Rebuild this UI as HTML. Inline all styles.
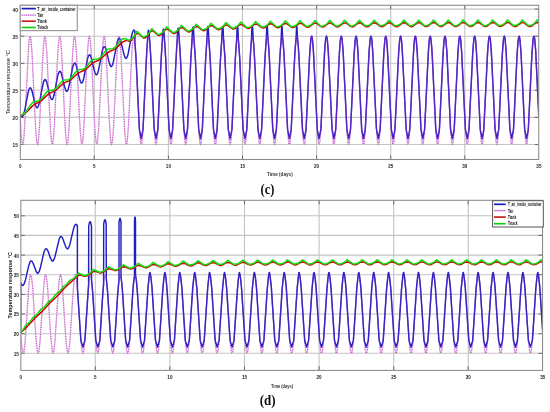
<!DOCTYPE html>
<html><head><meta charset="utf-8"><title>Temperature response</title>
<style>html,body{margin:0;padding:0;background:#fff;width:550px;height:412px;overflow:hidden}svg{display:block}</style>
</head><body>
<svg width="550" height="412" viewBox="0 0 550 412">
<rect width="550" height="412" fill="#fff"/>
<path d="M94.3 5.3V159.5M168.4 5.3V159.5M242.5 5.3V159.5M316.6 5.3V159.5M390.7 5.3V159.5M464.8 5.3V159.5M20.3 144.5H538.7M20.3 117.4H538.7M20.3 90.3H538.7M20.3 63.3H538.7M20.3 36.2H538.7M20.3 9.1H538.7" stroke="#c4c4c4" stroke-width="1.1" fill="none"/>
<path d="M94.3 159.5v-4M94.3 5.3v4M168.4 159.5v-4M168.4 5.3v4M242.5 159.5v-4M242.5 5.3v4M316.6 159.5v-4M316.6 5.3v4M390.7 159.5v-4M390.7 5.3v4M464.8 159.5v-4M464.8 5.3v4M20.3 144.5h4M538.7 144.5h-4M20.3 117.4h4M538.7 117.4h-4M20.3 90.3h4M538.7 90.3h-4M20.3 63.3h4M538.7 63.3h-4M20.3 36.2h4M538.7 36.2h-4M20.3 9.1h4M538.7 9.1h-4" stroke="#6a6a6a" stroke-width="1" fill="none"/>
<clipPath id="clipc"><rect x="20.3" y="5.3" width="518.4" height="154.2"/></clipPath>
<g clip-path="url(#clipc)" fill="none" stroke-linejoin="round" stroke-linecap="round">
<path d="M20.2 117.3 L21.1 132.7 L21.8 141.1 L22.3 143.7 L22.7 144.5 L23.0 143.9 L23.5 141.5 L24.2 133.5 L24.9 121.3 L28.4 50.2 L29.2 39.6 L29.7 37.0 L30.1 36.2 L30.6 37.3 L31.0 40.4 L32.1 54.0 L34.9 114.3 L35.9 132.7 L36.8 142.2 L37.2 144.2 L37.5 144.5 L38.0 143.3 L38.4 140.3 L39.5 126.7 L42.3 66.4 L43.3 48.0 L44.2 38.5 L44.7 36.5 L44.9 36.2 L45.4 37.3 L45.8 40.4 L46.9 54.0 L49.7 114.3 L50.7 132.7 L51.6 142.2 L52.1 144.2 L52.4 144.5 L52.8 143.3 L53.2 140.3 L54.3 126.7 L57.1 66.4 L58.1 48.0 L59.0 38.5 L59.5 36.5 L59.8 36.2 L60.2 37.3 L60.7 40.4 L61.7 54.0 L64.5 114.3 L65.5 132.7 L66.4 142.2 L66.9 144.2 L67.2 144.5 L67.6 143.3 L68.1 140.3 L69.1 126.7 L71.9 66.4 L73.0 48.0 L73.8 38.5 L74.3 36.5 L74.6 36.2 L75.0 37.3 L75.5 40.4 L76.5 54.0 L79.3 114.3 L80.4 132.7 L81.3 142.2 L81.7 144.2 L82.0 144.5 L82.4 143.3 L82.9 140.3 L83.9 126.7 L86.7 66.4 L87.8 48.0 L88.7 38.5 L89.1 36.5 L89.4 36.2 L89.8 37.3 L90.3 40.4 L91.3 54.0 L94.1 114.3 L95.2 132.7 L96.1 142.2 L96.5 144.2 L96.8 144.5 L97.3 143.3 L97.7 140.3 L98.7 126.7 L101.6 66.4 L102.6 48.0 L103.5 38.5 L103.9 36.5 L104.2 36.2 L104.7 37.3 L105.1 40.4 L106.1 54.0 L109.0 114.3 L110.0 132.7 L110.9 142.2 L111.3 144.2 L111.6 144.5 L112.1 143.3 L112.5 140.3 L113.6 126.7 L116.4 66.4 L117.4 48.0 L118.3 38.5 L118.7 36.5 L119.0 36.2 L119.5 37.3 L119.9 40.4 L121.0 54.0 L123.8 114.3 L124.8 132.7 L125.7 142.2 L126.2 144.2 L126.5 144.5 L126.9 143.3 L127.3 140.3 L128.4 126.7 L131.2 66.4 L132.2 48.0 L133.1 38.5 L133.6 36.5 L133.9 36.2 L134.3 37.3 L134.7 40.4 L135.8 54.0 L138.6 114.3 L139.6 132.7 L140.5 142.2 L141.0 144.2 L141.3 144.5 L141.7 143.3 L142.2 140.3 L143.2 126.7 L146.0 66.4 L147.0 48.0 L147.9 38.5 L148.4 36.5 L148.7 36.2 L149.1 37.3 L149.6 40.4 L150.6 54.0 L153.4 114.3 L154.5 132.7 L155.3 142.2 L155.8 144.2 L156.1 144.5 L156.5 143.3 L157.0 140.3 L158.0 126.7 L160.8 66.4 L161.9 48.0 L162.8 38.5 L163.2 36.5 L163.5 36.2 L163.9 37.3 L164.4 40.4 L165.4 54.0 L168.2 114.3 L169.3 132.7 L170.2 142.2 L170.6 144.2 L170.9 144.5 L171.4 143.3 L171.8 140.3 L172.8 126.7 L175.6 66.4 L176.7 48.0 L177.6 38.5 L178.0 36.5 L178.3 36.2 L178.8 37.3 L179.2 40.4 L180.2 54.0 L183.1 114.3 L184.1 132.7 L185.0 142.2 L185.4 144.2 L185.7 144.5 L186.2 143.3 L186.6 140.3 L187.7 126.7 L190.5 66.4 L191.5 48.0 L192.4 38.5 L192.8 36.5 L193.1 36.2 L193.6 37.3 L194.0 40.4 L195.1 54.0 L197.9 114.3 L198.9 132.7 L199.8 142.2 L200.2 144.2 L200.5 144.5 L201.0 143.3 L201.4 140.3 L202.5 126.7 L205.3 66.4 L206.3 48.0 L207.2 38.5 L207.7 36.5 L208.0 36.2 L208.4 37.3 L208.8 40.4 L209.9 54.0 L212.7 114.3 L213.7 132.7 L214.6 142.2 L215.1 144.2 L215.4 144.5 L215.8 143.3 L216.3 140.3 L217.3 126.7 L220.1 66.4 L221.1 48.0 L222.0 38.5 L222.5 36.5 L222.8 36.2 L223.2 37.3 L223.7 40.4 L224.7 54.0 L227.5 114.3 L228.6 132.7 L229.4 142.2 L229.9 144.2 L230.2 144.5 L230.6 143.3 L231.1 140.3 L232.1 126.7 L234.9 66.4 L236.0 48.0 L236.9 38.5 L237.3 36.5 L237.6 36.2 L238.0 37.3 L238.5 40.4 L239.5 54.0 L242.3 114.3 L243.4 132.7 L244.3 142.2 L244.7 144.2 L245.0 144.5 L245.4 143.3 L245.9 140.3 L246.9 126.7 L249.7 66.4 L250.8 48.0 L251.7 38.5 L252.1 36.5 L252.4 36.2 L252.9 37.3 L253.3 40.4 L254.3 54.0 L257.2 114.3 L258.2 132.7 L259.1 142.2 L259.5 144.2 L259.8 144.5 L260.3 143.3 L260.7 140.3 L261.7 126.7 L264.6 66.4 L265.6 48.0 L266.5 38.5 L266.9 36.5 L267.2 36.2 L267.5 36.7 L268.0 39.2 L268.9 49.3 L272.7 128.2 L273.6 139.8 L274.0 143.0 L274.5 144.4 L274.8 144.3 L275.2 142.5 L276.1 133.5 L277.2 115.5 L280.1 52.5 L281.2 39.6 L281.6 37.0 L282.0 36.2 L282.3 36.7 L282.8 39.2 L283.7 49.3 L287.5 128.2 L288.4 139.8 L288.9 143.0 L289.3 144.4 L289.6 144.3 L290.1 142.5 L290.9 133.5 L292.0 115.5 L294.9 52.5 L296.0 39.6 L296.4 37.0 L296.9 36.2 L297.2 36.7 L297.6 39.2 L298.5 49.3 L302.4 128.2 L303.2 139.8 L303.7 143.0 L304.1 144.4 L304.4 144.3 L304.9 142.5 L305.8 133.5 L306.8 115.5 L309.8 52.5 L310.8 39.6 L311.2 37.0 L311.7 36.2 L312.0 36.7 L312.4 39.2 L313.3 49.3 L317.2 128.2 L318.1 139.8 L318.5 143.0 L318.9 144.4 L319.2 144.3 L319.7 142.5 L320.6 133.5 L321.6 115.5 L324.6 52.5 L325.6 39.6 L326.1 37.0 L326.5 36.2 L326.8 36.7 L327.2 39.2 L328.1 49.3 L332.0 128.2 L332.9 139.8 L333.3 143.0 L333.8 144.4 L334.1 144.3 L334.5 142.5 L335.4 133.5 L336.4 115.5 L339.4 52.5 L340.4 39.6 L340.9 37.0 L341.3 36.2 L341.6 36.7 L342.1 39.2 L343.0 49.3 L346.8 128.2 L347.7 139.8 L348.1 143.0 L348.6 144.4 L348.9 144.3 L349.3 142.5 L350.2 133.5 L351.3 115.5 L354.2 52.5 L355.3 39.6 L355.7 37.0 L356.1 36.2 L356.4 36.7 L356.9 39.2 L357.8 49.3 L361.6 128.2 L362.5 139.8 L363.0 143.0 L363.4 144.4 L363.7 144.3 L364.1 142.5 L365.0 133.5 L366.1 115.5 L369.0 52.5 L370.1 39.6 L370.5 37.0 L371.0 36.2 L371.3 36.7 L371.7 39.2 L372.6 49.3 L376.4 128.2 L377.3 139.8 L377.8 143.0 L378.2 144.4 L378.5 144.3 L379.0 142.5 L379.9 133.5 L380.9 115.5 L383.9 52.5 L384.9 39.6 L385.3 37.0 L385.8 36.2 L386.1 36.7 L386.5 39.2 L387.4 49.3 L391.3 128.2 L392.2 139.8 L392.6 143.0 L393.0 144.4 L393.3 144.3 L393.8 142.5 L394.7 133.5 L395.7 115.5 L398.7 52.5 L399.7 39.6 L400.2 37.0 L400.6 36.2 L400.9 36.7 L401.3 39.2 L402.2 49.3 L406.1 128.2 L407.0 139.8 L407.4 143.0 L407.9 144.4 L408.2 144.3 L408.6 142.5 L409.5 133.5 L410.5 115.5 L413.5 52.5 L414.5 39.6 L415.0 37.0 L415.4 36.2 L415.7 36.7 L416.2 39.2 L417.0 49.3 L420.9 128.2 L421.8 139.8 L422.2 143.0 L422.7 144.4 L423.0 144.3 L423.4 142.5 L424.3 133.5 L425.3 115.5 L428.3 52.5 L429.3 39.6 L429.8 37.0 L430.2 36.2 L430.5 36.7 L431.0 39.2 L431.9 49.3 L435.7 128.2 L436.6 139.8 L437.1 143.0 L437.5 144.4 L437.8 144.3 L438.2 142.5 L439.1 133.5 L440.2 115.5 L443.1 52.5 L444.2 39.6 L444.6 37.0 L445.1 36.2 L445.4 36.7 L445.8 39.2 L446.7 49.3 L450.5 128.2 L451.4 139.8 L451.9 143.0 L452.3 144.4 L452.5 144.5 L452.8 143.9 L453.2 141.5 L454.1 131.4 L457.9 52.5 L458.8 40.9 L459.3 37.6 L459.7 36.2 L459.9 36.2 L460.2 36.7 L460.6 39.2 L461.5 49.3 L465.4 128.2 L466.2 139.8 L466.7 143.0 L467.1 144.4 L467.3 144.5 L467.6 143.9 L468.0 141.5 L468.9 131.4 L472.8 52.5 L473.7 40.9 L474.1 37.6 L474.5 36.2 L474.7 36.2 L475.0 36.7 L475.4 39.2 L476.3 49.3 L480.2 128.2 L481.1 139.8 L481.5 143.0 L482.0 144.4 L482.1 144.5 L482.4 143.9 L482.8 141.5 L483.7 131.4 L487.6 52.5 L488.5 40.9 L488.9 37.6 L489.4 36.2 L489.5 36.2 L489.8 36.7 L490.3 39.2 L491.1 49.3 L495.0 128.2 L495.9 139.8 L496.3 143.0 L496.8 144.4 L496.9 144.5 L497.2 143.9 L497.7 141.5 L498.6 131.4 L502.4 52.5 L503.3 40.9 L503.7 37.6 L504.2 36.2 L504.3 36.2 L504.6 36.7 L505.1 39.2 L506.0 49.3 L509.7 125.6 L510.6 138.3 L511.0 142.2 L511.4 144.2 L511.7 144.5 L511.9 144.3 L512.3 142.5 L513.2 133.5 L514.3 115.5 L517.2 52.5 L518.1 40.9 L518.6 37.6 L519.0 36.2 L519.2 36.2 L519.4 36.7 L519.9 39.2 L520.8 49.3 L524.5 125.6 L525.4 138.3 L526.1 143.7 L526.6 144.5 L527.0 143.3 L527.4 140.3 L528.0 133.5 L529.1 115.5 L531.9 55.0 L532.8 42.4 L533.2 38.5 L533.7 36.5 L534.0 36.2 L534.1 36.4 L534.7 39.2 L535.7 51.6 L538.9 117.3" stroke="#efc2ef" stroke-width="1.3"/>
<path d="M20.2 117.3 L21.1 132.7 L21.8 141.1 L22.3 143.7 L22.7 144.5 L23.0 143.9 L23.5 141.5 L24.2 133.5 L24.9 121.3 L28.4 50.2 L29.2 39.6 L29.7 37.0 L30.1 36.2 L30.6 37.3 L31.0 40.4 L32.1 54.0 L34.9 114.3 L35.9 132.7 L36.8 142.2 L37.2 144.2 L37.5 144.5 L38.0 143.3 L38.4 140.3 L39.5 126.7 L42.3 66.4 L43.3 48.0 L44.2 38.5 L44.7 36.5 L44.9 36.2 L45.4 37.3 L45.8 40.4 L46.9 54.0 L49.7 114.3 L50.7 132.7 L51.6 142.2 L52.1 144.2 L52.4 144.5 L52.8 143.3 L53.2 140.3 L54.3 126.7 L57.1 66.4 L58.1 48.0 L59.0 38.5 L59.5 36.5 L59.8 36.2 L60.2 37.3 L60.7 40.4 L61.7 54.0 L64.5 114.3 L65.5 132.7 L66.4 142.2 L66.9 144.2 L67.2 144.5 L67.6 143.3 L68.1 140.3 L69.1 126.7 L71.9 66.4 L73.0 48.0 L73.8 38.5 L74.3 36.5 L74.6 36.2 L75.0 37.3 L75.5 40.4 L76.5 54.0 L79.3 114.3 L80.4 132.7 L81.3 142.2 L81.7 144.2 L82.0 144.5 L82.4 143.3 L82.9 140.3 L83.9 126.7 L86.7 66.4 L87.8 48.0 L88.7 38.5 L89.1 36.5 L89.4 36.2 L89.8 37.3 L90.3 40.4 L91.3 54.0 L94.1 114.3 L95.2 132.7 L96.1 142.2 L96.5 144.2 L96.8 144.5 L97.3 143.3 L97.7 140.3 L98.7 126.7 L101.6 66.4 L102.6 48.0 L103.5 38.5 L103.9 36.5 L104.2 36.2 L104.7 37.3 L105.1 40.4 L106.1 54.0 L109.0 114.3 L110.0 132.7 L110.9 142.2 L111.3 144.2 L111.6 144.5 L112.1 143.3 L112.5 140.3 L113.6 126.7 L116.4 66.4 L117.4 48.0 L118.3 38.5 L118.7 36.5 L119.0 36.2 L119.5 37.3 L119.9 40.4 L121.0 54.0 L123.8 114.3 L124.8 132.7 L125.7 142.2 L126.2 144.2 L126.5 144.5 L126.9 143.3 L127.3 140.3 L128.4 126.7 L131.2 66.4 L132.2 48.0 L133.1 38.5 L133.6 36.5 L133.9 36.2 L134.3 37.3 L134.7 40.4 L135.8 54.0 L138.6 114.3 L139.6 132.7 L140.5 142.2 L141.0 144.2 L141.3 144.5 L141.7 143.3 L142.2 140.3 L143.2 126.7 L146.0 66.4 L147.0 48.0 L147.9 38.5 L148.4 36.5 L148.7 36.2 L149.1 37.3 L149.6 40.4 L150.6 54.0 L153.4 114.3 L154.5 132.7 L155.3 142.2 L155.8 144.2 L156.1 144.5 L156.5 143.3 L157.0 140.3 L158.0 126.7 L160.8 66.4 L161.9 48.0 L162.8 38.5 L163.2 36.5 L163.5 36.2 L163.9 37.3 L164.4 40.4 L165.4 54.0 L168.2 114.3 L169.3 132.7 L170.2 142.2 L170.6 144.2 L170.9 144.5 L171.4 143.3 L171.8 140.3 L172.8 126.7 L175.6 66.4 L176.7 48.0 L177.6 38.5 L178.0 36.5 L178.3 36.2 L178.8 37.3 L179.2 40.4 L180.2 54.0 L183.1 114.3 L184.1 132.7 L185.0 142.2 L185.4 144.2 L185.7 144.5 L186.2 143.3 L186.6 140.3 L187.7 126.7 L190.5 66.4 L191.5 48.0 L192.4 38.5 L192.8 36.5 L193.1 36.2 L193.6 37.3 L194.0 40.4 L195.1 54.0 L197.9 114.3 L198.9 132.7 L199.8 142.2 L200.2 144.2 L200.5 144.5 L201.0 143.3 L201.4 140.3 L202.5 126.7 L205.3 66.4 L206.3 48.0 L207.2 38.5 L207.7 36.5 L208.0 36.2 L208.4 37.3 L208.8 40.4 L209.9 54.0 L212.7 114.3 L213.7 132.7 L214.6 142.2 L215.1 144.2 L215.4 144.5 L215.8 143.3 L216.3 140.3 L217.3 126.7 L220.1 66.4 L221.1 48.0 L222.0 38.5 L222.5 36.5 L222.8 36.2 L223.2 37.3 L223.7 40.4 L224.7 54.0 L227.5 114.3 L228.6 132.7 L229.4 142.2 L229.9 144.2 L230.2 144.5 L230.6 143.3 L231.1 140.3 L232.1 126.7 L234.9 66.4 L236.0 48.0 L236.9 38.5 L237.3 36.5 L237.6 36.2 L238.0 37.3 L238.5 40.4 L239.5 54.0 L242.3 114.3 L243.4 132.7 L244.3 142.2 L244.7 144.2 L245.0 144.5 L245.4 143.3 L245.9 140.3 L246.9 126.7 L249.7 66.4 L250.8 48.0 L251.7 38.5 L252.1 36.5 L252.4 36.2 L252.9 37.3 L253.3 40.4 L254.3 54.0 L257.2 114.3 L258.2 132.7 L259.1 142.2 L259.5 144.2 L259.8 144.5 L260.3 143.3 L260.7 140.3 L261.7 126.7 L264.6 66.4 L265.6 48.0 L266.5 38.5 L266.9 36.5 L267.2 36.2 L267.5 36.7 L268.0 39.2 L268.9 49.3 L272.7 128.2 L273.6 139.8 L274.0 143.0 L274.5 144.4 L274.8 144.3 L275.2 142.5 L276.1 133.5 L277.2 115.5 L280.1 52.5 L281.2 39.6 L281.6 37.0 L282.0 36.2 L282.3 36.7 L282.8 39.2 L283.7 49.3 L287.5 128.2 L288.4 139.8 L288.9 143.0 L289.3 144.4 L289.6 144.3 L290.1 142.5 L290.9 133.5 L292.0 115.5 L294.9 52.5 L296.0 39.6 L296.4 37.0 L296.9 36.2 L297.2 36.7 L297.6 39.2 L298.5 49.3 L302.4 128.2 L303.2 139.8 L303.7 143.0 L304.1 144.4 L304.4 144.3 L304.9 142.5 L305.8 133.5 L306.8 115.5 L309.8 52.5 L310.8 39.6 L311.2 37.0 L311.7 36.2 L312.0 36.7 L312.4 39.2 L313.3 49.3 L317.2 128.2 L318.1 139.8 L318.5 143.0 L318.9 144.4 L319.2 144.3 L319.7 142.5 L320.6 133.5 L321.6 115.5 L324.6 52.5 L325.6 39.6 L326.1 37.0 L326.5 36.2 L326.8 36.7 L327.2 39.2 L328.1 49.3 L332.0 128.2 L332.9 139.8 L333.3 143.0 L333.8 144.4 L334.1 144.3 L334.5 142.5 L335.4 133.5 L336.4 115.5 L339.4 52.5 L340.4 39.6 L340.9 37.0 L341.3 36.2 L341.6 36.7 L342.1 39.2 L343.0 49.3 L346.8 128.2 L347.7 139.8 L348.1 143.0 L348.6 144.4 L348.9 144.3 L349.3 142.5 L350.2 133.5 L351.3 115.5 L354.2 52.5 L355.3 39.6 L355.7 37.0 L356.1 36.2 L356.4 36.7 L356.9 39.2 L357.8 49.3 L361.6 128.2 L362.5 139.8 L363.0 143.0 L363.4 144.4 L363.7 144.3 L364.1 142.5 L365.0 133.5 L366.1 115.5 L369.0 52.5 L370.1 39.6 L370.5 37.0 L371.0 36.2 L371.3 36.7 L371.7 39.2 L372.6 49.3 L376.4 128.2 L377.3 139.8 L377.8 143.0 L378.2 144.4 L378.5 144.3 L379.0 142.5 L379.9 133.5 L380.9 115.5 L383.9 52.5 L384.9 39.6 L385.3 37.0 L385.8 36.2 L386.1 36.7 L386.5 39.2 L387.4 49.3 L391.3 128.2 L392.2 139.8 L392.6 143.0 L393.0 144.4 L393.3 144.3 L393.8 142.5 L394.7 133.5 L395.7 115.5 L398.7 52.5 L399.7 39.6 L400.2 37.0 L400.6 36.2 L400.9 36.7 L401.3 39.2 L402.2 49.3 L406.1 128.2 L407.0 139.8 L407.4 143.0 L407.9 144.4 L408.2 144.3 L408.6 142.5 L409.5 133.5 L410.5 115.5 L413.5 52.5 L414.5 39.6 L415.0 37.0 L415.4 36.2 L415.7 36.7 L416.2 39.2 L417.0 49.3 L420.9 128.2 L421.8 139.8 L422.2 143.0 L422.7 144.4 L423.0 144.3 L423.4 142.5 L424.3 133.5 L425.3 115.5 L428.3 52.5 L429.3 39.6 L429.8 37.0 L430.2 36.2 L430.5 36.7 L431.0 39.2 L431.9 49.3 L435.7 128.2 L436.6 139.8 L437.1 143.0 L437.5 144.4 L437.8 144.3 L438.2 142.5 L439.1 133.5 L440.2 115.5 L443.1 52.5 L444.2 39.6 L444.6 37.0 L445.1 36.2 L445.4 36.7 L445.8 39.2 L446.7 49.3 L450.5 128.2 L451.4 139.8 L451.9 143.0 L452.3 144.4 L452.5 144.5 L452.8 143.9 L453.2 141.5 L454.1 131.4 L457.9 52.5 L458.8 40.9 L459.3 37.6 L459.7 36.2 L459.9 36.2 L460.2 36.7 L460.6 39.2 L461.5 49.3 L465.4 128.2 L466.2 139.8 L466.7 143.0 L467.1 144.4 L467.3 144.5 L467.6 143.9 L468.0 141.5 L468.9 131.4 L472.8 52.5 L473.7 40.9 L474.1 37.6 L474.5 36.2 L474.7 36.2 L475.0 36.7 L475.4 39.2 L476.3 49.3 L480.2 128.2 L481.1 139.8 L481.5 143.0 L482.0 144.4 L482.1 144.5 L482.4 143.9 L482.8 141.5 L483.7 131.4 L487.6 52.5 L488.5 40.9 L488.9 37.6 L489.4 36.2 L489.5 36.2 L489.8 36.7 L490.3 39.2 L491.1 49.3 L495.0 128.2 L495.9 139.8 L496.3 143.0 L496.8 144.4 L496.9 144.5 L497.2 143.9 L497.7 141.5 L498.6 131.4 L502.4 52.5 L503.3 40.9 L503.7 37.6 L504.2 36.2 L504.3 36.2 L504.6 36.7 L505.1 39.2 L506.0 49.3 L509.7 125.6 L510.6 138.3 L511.0 142.2 L511.4 144.2 L511.7 144.5 L511.9 144.3 L512.3 142.5 L513.2 133.5 L514.3 115.5 L517.2 52.5 L518.1 40.9 L518.6 37.6 L519.0 36.2 L519.2 36.2 L519.4 36.7 L519.9 39.2 L520.8 49.3 L524.5 125.6 L525.4 138.3 L526.1 143.7 L526.6 144.5 L527.0 143.3 L527.4 140.3 L528.0 133.5 L529.1 115.5 L531.9 55.0 L532.8 42.4 L533.2 38.5 L533.7 36.5 L534.0 36.2 L534.1 36.4 L534.7 39.2 L535.7 51.6 L538.9 117.3" stroke="#c060c4" stroke-width="1.2" stroke-dasharray="1.1 1.3" stroke-linecap="butt"/>
<path d="M20.2 117.1 L20.7 116.5 L21.9 116.6 L22.5 116.4 L23.1 115.6 L23.7 114.2 L25.0 109.0 L28.1 92.4 L29.1 89.1 L30.0 87.8 L30.4 87.7 L30.9 88.2 L31.9 90.5 L34.8 102.7 L35.9 106.2 L36.4 107.2 L36.9 107.7 L37.4 107.7 L37.8 107.2 L38.6 105.3 L39.5 102.1 L43.1 83.7 L43.9 80.8 L44.8 79.6 L45.2 79.5 L45.7 79.9 L46.7 82.2 L49.6 94.4 L50.7 97.8 L51.6 99.4 L52.0 99.5 L52.5 99.3 L53.3 97.5 L54.2 94.3 L57.9 75.1 L58.8 72.5 L59.6 71.3 L60.1 71.3 L60.6 71.7 L61.5 74.0 L64.4 86.1 L65.5 89.5 L66.3 91.1 L66.8 91.3 L67.2 91.1 L68.1 89.5 L69.0 86.1 L72.7 67.0 L73.6 64.3 L74.4 63.1 L74.9 63.0 L75.4 63.5 L76.3 65.8 L79.3 78.0 L80.3 81.3 L81.1 82.9 L81.6 83.1 L82.0 82.9 L82.9 81.3 L83.8 78.0 L87.6 58.6 L88.4 56.0 L89.2 54.9 L89.7 54.8 L90.2 55.2 L91.2 57.5 L94.1 69.7 L95.1 73.0 L96.0 74.6 L96.4 74.9 L96.8 74.7 L97.7 73.1 L98.6 69.8 L102.4 50.5 L103.2 47.8 L104.1 46.6 L104.5 46.6 L105.0 47.0 L106.0 49.3 L108.9 61.4 L109.9 64.7 L110.8 66.4 L111.2 66.6 L111.6 66.5 L112.5 64.9 L113.4 61.6 L117.2 42.1 L118.1 39.5 L118.9 38.4 L119.3 38.3 L119.8 38.8 L120.8 41.1 L123.7 53.3 L124.7 56.6 L125.6 58.1 L126.0 58.4 L126.4 58.2 L127.3 56.7 L128.2 53.5 L131.1 38.2 L132.1 33.6 L133.1 30.9 L133.6 30.2 L134.1 30.1 L134.9 30.9 L134.9 41.8 L136.2 61.3 L139.4 129.6 L141.2 138.5 L143.0 129.4 L146.5 56.1 L147.9 33.5 L148.2 31.1 L148.6 30.2 L148.9 30.9 L149.2 33.2 L150.7 56.1 L154.2 129.4 L156.1 138.5 L157.8 129.6 L161.3 56.3 L162.8 32.4 L163.1 29.9 L163.5 29.1 L163.8 29.8 L164.0 31.8 L165.6 56.6 L169.1 129.8 L170.9 138.5 L172.6 129.8 L176.2 56.6 L177.6 31.3 L177.9 28.9 L178.3 28.1 L178.6 28.7 L178.7 30.4 L180.4 57.1 L183.9 129.6 L185.7 138.5 L187.5 129.4 L190.9 57.7 L191.9 41.9 L192.5 29.5 L192.7 27.7 L193.1 27.0 L193.4 27.7 L193.5 29.5 L194.0 39.6 L195.3 57.7 L198.7 129.4 L200.5 138.5 L202.3 129.6 L205.7 58.0 L206.8 41.7 L207.4 28.8 L207.6 27.0 L207.9 26.4 L208.1 26.9 L208.3 28.5 L208.8 39.0 L210.1 57.4 L213.5 129.8 L215.3 138.5 L217.1 129.8 L220.5 58.2 L221.7 40.8 L222.2 28.6 L222.4 27.1 L222.7 26.4 L222.9 26.9 L223.1 28.6 L223.5 38.5 L224.9 57.1 L228.3 129.6 L230.1 138.5 L231.9 129.4 L235.4 57.7 L236.6 40.0 L237.1 28.5 L237.2 27.0 L237.5 26.4 L237.9 28.1 L238.3 38.7 L239.7 57.7 L243.1 129.4 L245.0 138.5 L246.8 129.6 L250.2 58.0 L251.4 39.9 L251.9 28.3 L252.1 26.9 L252.4 26.4 L252.7 28.1 L253.1 38.2 L253.9 46.7 L254.5 57.4 L258.0 129.8 L259.8 138.5 L261.6 129.8 L265.0 58.2 L266.3 39.1 L266.8 28.1 L266.9 27.0 L267.2 26.4 L267.4 27.6 L267.9 37.8 L268.6 45.9 L269.3 57.1 L272.8 129.6 L274.6 138.5 L276.4 129.4 L279.8 58.5 L281.2 39.1 L281.6 27.9 L281.7 26.8 L282.0 26.4 L282.2 27.7 L282.6 37.4 L283.4 45.7 L284.2 57.7 L287.6 129.4 L289.4 138.5 L291.2 129.6 L294.6 58.0 L295.3 47.1 L296.1 38.4 L296.5 27.8 L296.6 26.7 L296.8 26.4 L297.0 27.8 L297.4 37.1 L298.2 45.0 L299.0 57.4 L302.5 129.8 L304.2 138.5 L306.0 129.8 L309.7 53.5 L310.7 40.6 L311.2 37.3 L311.6 36.2 L312.1 37.0 L312.5 40.1 L313.5 52.5 L317.3 129.6 L319.0 138.5 L320.9 129.4 L324.5 53.0 L325.5 40.4 L326.0 37.1 L326.5 36.2 L326.9 37.1 L327.4 40.4 L328.4 53.0 L332.1 129.4 L333.9 138.5 L335.7 129.6 L339.4 53.3 L340.3 40.5 L340.8 37.2 L341.3 36.2 L341.7 37.1 L342.2 40.2 L343.2 52.8 L346.9 129.8 L348.7 138.5 L350.5 129.8 L354.2 53.5 L355.1 40.6 L355.6 37.3 L356.1 36.2 L356.5 37.0 L357.0 40.1 L358.0 52.5 L361.7 129.6 L363.5 138.5 L365.3 129.4 L369.0 53.0 L370.0 40.4 L370.5 37.1 L370.9 36.2 L371.4 37.1 L371.9 40.4 L372.8 53.0 L376.5 129.4 L378.3 138.5 L380.1 129.6 L383.8 53.3 L384.8 40.5 L385.3 37.2 L385.7 36.2 L386.2 37.1 L386.7 40.2 L387.6 52.8 L391.4 129.8 L393.1 138.5 L394.9 129.8 L398.6 53.5 L399.6 40.6 L400.1 37.3 L400.5 36.2 L401.0 37.0 L401.5 40.1 L402.4 52.5 L406.2 129.6 L408.0 138.5 L409.8 129.4 L413.5 53.0 L414.4 40.4 L414.9 37.1 L415.4 36.2 L415.8 37.1 L416.3 40.4 L417.3 53.0 L421.0 129.4 L422.8 138.5 L424.6 129.6 L428.3 53.3 L429.2 40.5 L429.7 37.2 L430.2 36.2 L430.6 37.1 L431.1 40.2 L432.1 52.8 L435.8 129.8 L437.6 138.5 L439.4 129.8 L443.1 53.5 L444.0 40.6 L444.5 37.3 L445.0 36.2 L445.4 37.0 L445.9 40.1 L446.9 52.5 L450.6 129.6 L452.4 138.5 L454.2 129.4 L457.9 53.0 L458.9 40.4 L459.3 37.3 L459.8 36.2 L460.0 36.3 L460.2 37.0 L460.7 40.0 L461.7 53.0 L465.4 129.4 L467.3 138.5 L469.0 129.6 L472.7 53.3 L473.7 40.5 L474.2 37.2 L474.6 36.2 L475.1 37.1 L475.6 40.2 L476.5 52.8 L480.3 129.8 L482.1 138.5 L483.8 129.8 L487.5 53.5 L488.5 40.6 L489.0 37.3 L489.4 36.2 L489.9 37.0 L490.4 40.1 L491.4 52.5 L495.1 129.6 L496.9 138.5 L498.7 129.4 L502.4 53.0 L503.4 40.4 L503.8 37.3 L504.2 36.2 L504.5 36.3 L504.7 37.0 L505.2 40.0 L506.2 53.0 L509.9 129.4 L511.7 138.4 L513.5 129.6 L517.1 54.0 L518.1 40.9 L518.6 37.6 L519.0 36.2 L519.2 36.2 L519.4 36.7 L519.9 39.5 L521.0 52.0 L524.7 129.8 L526.5 138.5 L528.3 129.8 L531.9 54.3 L532.9 41.5 L533.3 38.0 L533.8 36.3 L534.0 36.2 L534.2 36.6 L534.7 39.0 L535.7 51.1 L538.8 116.7" stroke="#2020c0" stroke-width="1.45"/>
<mask id="mbc" maskUnits="userSpaceOnUse" x="0" y="0" width="550" height="412"><path d="M20.2 117.1 L20.7 116.5 L21.9 116.6 L22.5 116.4 L23.1 115.6 L23.7 114.2 L25.0 109.0 L28.1 92.4 L29.1 89.1 L30.0 87.8 L30.4 87.7 L30.9 88.2 L31.9 90.5 L34.8 102.7 L35.9 106.2 L36.4 107.2 L36.9 107.7 L37.4 107.7 L37.8 107.2 L38.6 105.3 L39.5 102.1 L43.1 83.7 L43.9 80.8 L44.8 79.6 L45.2 79.5 L45.7 79.9 L46.7 82.2 L49.6 94.4 L50.7 97.8 L51.6 99.4 L52.0 99.5 L52.5 99.3 L53.3 97.5 L54.2 94.3 L57.9 75.1 L58.8 72.5 L59.6 71.3 L60.1 71.3 L60.6 71.7 L61.5 74.0 L64.4 86.1 L65.5 89.5 L66.3 91.1 L66.8 91.3 L67.2 91.1 L68.1 89.5 L69.0 86.1 L72.7 67.0 L73.6 64.3 L74.4 63.1 L74.9 63.0 L75.4 63.5 L76.3 65.8 L79.3 78.0 L80.3 81.3 L81.1 82.9 L81.6 83.1 L82.0 82.9 L82.9 81.3 L83.8 78.0 L87.6 58.6 L88.4 56.0 L89.2 54.9 L89.7 54.8 L90.2 55.2 L91.2 57.5 L94.1 69.7 L95.1 73.0 L96.0 74.6 L96.4 74.9 L96.8 74.7 L97.7 73.1 L98.6 69.8 L102.4 50.5 L103.2 47.8 L104.1 46.6 L104.5 46.6 L105.0 47.0 L106.0 49.3 L108.9 61.4 L109.9 64.7 L110.8 66.4 L111.2 66.6 L111.6 66.5 L112.5 64.9 L113.4 61.6 L117.2 42.1 L118.1 39.5 L118.9 38.4 L119.3 38.3 L119.8 38.8 L120.8 41.1 L123.7 53.3 L124.7 56.6 L125.6 58.1 L126.0 58.4 L126.4 58.2 L127.3 56.7 L128.2 53.5 L131.1 38.2 L132.1 33.6 L133.1 30.9 L133.6 30.2 L134.1 30.1 L134.9 30.9 L134.9 41.8 L136.2 61.3 L139.4 129.6 L141.2 138.5 L143.0 129.4 L146.5 56.1 L147.9 33.5 L148.2 31.1 L148.6 30.2 L148.9 30.9 L149.2 33.2 L150.7 56.1 L154.2 129.4 L156.1 138.5 L157.8 129.6 L161.3 56.3 L162.8 32.4 L163.1 29.9 L163.5 29.1 L163.8 29.8 L164.0 31.8 L165.6 56.6 L169.1 129.8 L170.9 138.5 L172.6 129.8 L176.2 56.6 L177.6 31.3 L177.9 28.9 L178.3 28.1 L178.6 28.7 L178.7 30.4 L180.4 57.1 L183.9 129.6 L185.7 138.5 L187.5 129.4 L190.9 57.7 L191.9 41.9 L192.5 29.5 L192.7 27.7 L193.1 27.0 L193.4 27.7 L193.5 29.5 L194.0 39.6 L195.3 57.7 L198.7 129.4 L200.5 138.5 L202.3 129.6 L205.7 58.0 L206.8 41.7 L207.4 28.8 L207.6 27.0 L207.9 26.4 L208.1 26.9 L208.3 28.5 L208.8 39.0 L210.1 57.4 L213.5 129.8 L215.3 138.5 L217.1 129.8 L220.5 58.2 L221.7 40.8 L222.2 28.6 L222.4 27.1 L222.7 26.4 L222.9 26.9 L223.1 28.6 L223.5 38.5 L224.9 57.1 L228.3 129.6 L230.1 138.5 L231.9 129.4 L235.4 57.7 L236.6 40.0 L237.1 28.5 L237.2 27.0 L237.5 26.4 L237.9 28.1 L238.3 38.7 L239.7 57.7 L243.1 129.4 L245.0 138.5 L246.8 129.6 L250.2 58.0 L251.4 39.9 L251.9 28.3 L252.1 26.9 L252.4 26.4 L252.7 28.1 L253.1 38.2 L253.9 46.7 L254.5 57.4 L258.0 129.8 L259.8 138.5 L261.6 129.8 L265.0 58.2 L266.3 39.1 L266.8 28.1 L266.9 27.0 L267.2 26.4 L267.4 27.6 L267.9 37.8 L268.6 45.9 L269.3 57.1 L272.8 129.6 L274.6 138.5 L276.4 129.4 L279.8 58.5 L281.2 39.1 L281.6 27.9 L281.7 26.8 L282.0 26.4 L282.2 27.7 L282.6 37.4 L283.4 45.7 L284.2 57.7 L287.6 129.4 L289.4 138.5 L291.2 129.6 L294.6 58.0 L295.3 47.1 L296.1 38.4 L296.5 27.8 L296.6 26.7 L296.8 26.4 L297.0 27.8 L297.4 37.1 L298.2 45.0 L299.0 57.4 L302.5 129.8 L304.2 138.5 L306.0 129.8 L309.7 53.5 L310.7 40.6 L311.2 37.3 L311.6 36.2 L312.1 37.0 L312.5 40.1 L313.5 52.5 L317.3 129.6 L319.0 138.5 L320.9 129.4 L324.5 53.0 L325.5 40.4 L326.0 37.1 L326.5 36.2 L326.9 37.1 L327.4 40.4 L328.4 53.0 L332.1 129.4 L333.9 138.5 L335.7 129.6 L339.4 53.3 L340.3 40.5 L340.8 37.2 L341.3 36.2 L341.7 37.1 L342.2 40.2 L343.2 52.8 L346.9 129.8 L348.7 138.5 L350.5 129.8 L354.2 53.5 L355.1 40.6 L355.6 37.3 L356.1 36.2 L356.5 37.0 L357.0 40.1 L358.0 52.5 L361.7 129.6 L363.5 138.5 L365.3 129.4 L369.0 53.0 L370.0 40.4 L370.5 37.1 L370.9 36.2 L371.4 37.1 L371.9 40.4 L372.8 53.0 L376.5 129.4 L378.3 138.5 L380.1 129.6 L383.8 53.3 L384.8 40.5 L385.3 37.2 L385.7 36.2 L386.2 37.1 L386.7 40.2 L387.6 52.8 L391.4 129.8 L393.1 138.5 L394.9 129.8 L398.6 53.5 L399.6 40.6 L400.1 37.3 L400.5 36.2 L401.0 37.0 L401.5 40.1 L402.4 52.5 L406.2 129.6 L408.0 138.5 L409.8 129.4 L413.5 53.0 L414.4 40.4 L414.9 37.1 L415.4 36.2 L415.8 37.1 L416.3 40.4 L417.3 53.0 L421.0 129.4 L422.8 138.5 L424.6 129.6 L428.3 53.3 L429.2 40.5 L429.7 37.2 L430.2 36.2 L430.6 37.1 L431.1 40.2 L432.1 52.8 L435.8 129.8 L437.6 138.5 L439.4 129.8 L443.1 53.5 L444.0 40.6 L444.5 37.3 L445.0 36.2 L445.4 37.0 L445.9 40.1 L446.9 52.5 L450.6 129.6 L452.4 138.5 L454.2 129.4 L457.9 53.0 L458.9 40.4 L459.3 37.3 L459.8 36.2 L460.0 36.3 L460.2 37.0 L460.7 40.0 L461.7 53.0 L465.4 129.4 L467.3 138.5 L469.0 129.6 L472.7 53.3 L473.7 40.5 L474.2 37.2 L474.6 36.2 L475.1 37.1 L475.6 40.2 L476.5 52.8 L480.3 129.8 L482.1 138.5 L483.8 129.8 L487.5 53.5 L488.5 40.6 L489.0 37.3 L489.4 36.2 L489.9 37.0 L490.4 40.1 L491.4 52.5 L495.1 129.6 L496.9 138.5 L498.7 129.4 L502.4 53.0 L503.4 40.4 L503.8 37.3 L504.2 36.2 L504.5 36.3 L504.7 37.0 L505.2 40.0 L506.2 53.0 L509.9 129.4 L511.7 138.4 L513.5 129.6 L517.1 54.0 L518.1 40.9 L518.6 37.6 L519.0 36.2 L519.2 36.2 L519.4 36.7 L519.9 39.5 L521.0 52.0 L524.7 129.8 L526.5 138.5 L528.3 129.8 L531.9 54.3 L532.9 41.5 L533.3 38.0 L533.8 36.3 L534.0 36.2 L534.2 36.6 L534.7 39.0 L535.7 51.1 L538.8 116.7" stroke="#fff" stroke-width="1.45" fill="none"/></mask>
<path d="M20.2 117.3 L21.1 132.7 L21.8 141.1 L22.3 143.7 L22.7 144.5 L23.0 143.9 L23.5 141.5 L24.2 133.5 L24.9 121.3 L28.4 50.2 L29.2 39.6 L29.7 37.0 L30.1 36.2 L30.6 37.3 L31.0 40.4 L32.1 54.0 L34.9 114.3 L35.9 132.7 L36.8 142.2 L37.2 144.2 L37.5 144.5 L38.0 143.3 L38.4 140.3 L39.5 126.7 L42.3 66.4 L43.3 48.0 L44.2 38.5 L44.7 36.5 L44.9 36.2 L45.4 37.3 L45.8 40.4 L46.9 54.0 L49.7 114.3 L50.7 132.7 L51.6 142.2 L52.1 144.2 L52.4 144.5 L52.8 143.3 L53.2 140.3 L54.3 126.7 L57.1 66.4 L58.1 48.0 L59.0 38.5 L59.5 36.5 L59.8 36.2 L60.2 37.3 L60.7 40.4 L61.7 54.0 L64.5 114.3 L65.5 132.7 L66.4 142.2 L66.9 144.2 L67.2 144.5 L67.6 143.3 L68.1 140.3 L69.1 126.7 L71.9 66.4 L73.0 48.0 L73.8 38.5 L74.3 36.5 L74.6 36.2 L75.0 37.3 L75.5 40.4 L76.5 54.0 L79.3 114.3 L80.4 132.7 L81.3 142.2 L81.7 144.2 L82.0 144.5 L82.4 143.3 L82.9 140.3 L83.9 126.7 L86.7 66.4 L87.8 48.0 L88.7 38.5 L89.1 36.5 L89.4 36.2 L89.8 37.3 L90.3 40.4 L91.3 54.0 L94.1 114.3 L95.2 132.7 L96.1 142.2 L96.5 144.2 L96.8 144.5 L97.3 143.3 L97.7 140.3 L98.7 126.7 L101.6 66.4 L102.6 48.0 L103.5 38.5 L103.9 36.5 L104.2 36.2 L104.7 37.3 L105.1 40.4 L106.1 54.0 L109.0 114.3 L110.0 132.7 L110.9 142.2 L111.3 144.2 L111.6 144.5 L112.1 143.3 L112.5 140.3 L113.6 126.7 L116.4 66.4 L117.4 48.0 L118.3 38.5 L118.7 36.5 L119.0 36.2 L119.5 37.3 L119.9 40.4 L121.0 54.0 L123.8 114.3 L124.8 132.7 L125.7 142.2 L126.2 144.2 L126.5 144.5 L126.9 143.3 L127.3 140.3 L128.4 126.7 L131.2 66.4 L132.2 48.0 L133.1 38.5 L133.6 36.5 L133.9 36.2 L134.3 37.3 L134.7 40.4 L135.8 54.0 L138.6 114.3 L139.6 132.7 L140.5 142.2 L141.0 144.2 L141.3 144.5 L141.7 143.3 L142.2 140.3 L143.2 126.7 L146.0 66.4 L147.0 48.0 L147.9 38.5 L148.4 36.5 L148.7 36.2 L149.1 37.3 L149.6 40.4 L150.6 54.0 L153.4 114.3 L154.5 132.7 L155.3 142.2 L155.8 144.2 L156.1 144.5 L156.5 143.3 L157.0 140.3 L158.0 126.7 L160.8 66.4 L161.9 48.0 L162.8 38.5 L163.2 36.5 L163.5 36.2 L163.9 37.3 L164.4 40.4 L165.4 54.0 L168.2 114.3 L169.3 132.7 L170.2 142.2 L170.6 144.2 L170.9 144.5 L171.4 143.3 L171.8 140.3 L172.8 126.7 L175.6 66.4 L176.7 48.0 L177.6 38.5 L178.0 36.5 L178.3 36.2 L178.8 37.3 L179.2 40.4 L180.2 54.0 L183.1 114.3 L184.1 132.7 L185.0 142.2 L185.4 144.2 L185.7 144.5 L186.2 143.3 L186.6 140.3 L187.7 126.7 L190.5 66.4 L191.5 48.0 L192.4 38.5 L192.8 36.5 L193.1 36.2 L193.6 37.3 L194.0 40.4 L195.1 54.0 L197.9 114.3 L198.9 132.7 L199.8 142.2 L200.2 144.2 L200.5 144.5 L201.0 143.3 L201.4 140.3 L202.5 126.7 L205.3 66.4 L206.3 48.0 L207.2 38.5 L207.7 36.5 L208.0 36.2 L208.4 37.3 L208.8 40.4 L209.9 54.0 L212.7 114.3 L213.7 132.7 L214.6 142.2 L215.1 144.2 L215.4 144.5 L215.8 143.3 L216.3 140.3 L217.3 126.7 L220.1 66.4 L221.1 48.0 L222.0 38.5 L222.5 36.5 L222.8 36.2 L223.2 37.3 L223.7 40.4 L224.7 54.0 L227.5 114.3 L228.6 132.7 L229.4 142.2 L229.9 144.2 L230.2 144.5 L230.6 143.3 L231.1 140.3 L232.1 126.7 L234.9 66.4 L236.0 48.0 L236.9 38.5 L237.3 36.5 L237.6 36.2 L238.0 37.3 L238.5 40.4 L239.5 54.0 L242.3 114.3 L243.4 132.7 L244.3 142.2 L244.7 144.2 L245.0 144.5 L245.4 143.3 L245.9 140.3 L246.9 126.7 L249.7 66.4 L250.8 48.0 L251.7 38.5 L252.1 36.5 L252.4 36.2 L252.9 37.3 L253.3 40.4 L254.3 54.0 L257.2 114.3 L258.2 132.7 L259.1 142.2 L259.5 144.2 L259.8 144.5 L260.3 143.3 L260.7 140.3 L261.7 126.7 L264.6 66.4 L265.6 48.0 L266.5 38.5 L266.9 36.5 L267.2 36.2 L267.5 36.7 L268.0 39.2 L268.9 49.3 L272.7 128.2 L273.6 139.8 L274.0 143.0 L274.5 144.4 L274.8 144.3 L275.2 142.5 L276.1 133.5 L277.2 115.5 L280.1 52.5 L281.2 39.6 L281.6 37.0 L282.0 36.2 L282.3 36.7 L282.8 39.2 L283.7 49.3 L287.5 128.2 L288.4 139.8 L288.9 143.0 L289.3 144.4 L289.6 144.3 L290.1 142.5 L290.9 133.5 L292.0 115.5 L294.9 52.5 L296.0 39.6 L296.4 37.0 L296.9 36.2 L297.2 36.7 L297.6 39.2 L298.5 49.3 L302.4 128.2 L303.2 139.8 L303.7 143.0 L304.1 144.4 L304.4 144.3 L304.9 142.5 L305.8 133.5 L306.8 115.5 L309.8 52.5 L310.8 39.6 L311.2 37.0 L311.7 36.2 L312.0 36.7 L312.4 39.2 L313.3 49.3 L317.2 128.2 L318.1 139.8 L318.5 143.0 L318.9 144.4 L319.2 144.3 L319.7 142.5 L320.6 133.5 L321.6 115.5 L324.6 52.5 L325.6 39.6 L326.1 37.0 L326.5 36.2 L326.8 36.7 L327.2 39.2 L328.1 49.3 L332.0 128.2 L332.9 139.8 L333.3 143.0 L333.8 144.4 L334.1 144.3 L334.5 142.5 L335.4 133.5 L336.4 115.5 L339.4 52.5 L340.4 39.6 L340.9 37.0 L341.3 36.2 L341.6 36.7 L342.1 39.2 L343.0 49.3 L346.8 128.2 L347.7 139.8 L348.1 143.0 L348.6 144.4 L348.9 144.3 L349.3 142.5 L350.2 133.5 L351.3 115.5 L354.2 52.5 L355.3 39.6 L355.7 37.0 L356.1 36.2 L356.4 36.7 L356.9 39.2 L357.8 49.3 L361.6 128.2 L362.5 139.8 L363.0 143.0 L363.4 144.4 L363.7 144.3 L364.1 142.5 L365.0 133.5 L366.1 115.5 L369.0 52.5 L370.1 39.6 L370.5 37.0 L371.0 36.2 L371.3 36.7 L371.7 39.2 L372.6 49.3 L376.4 128.2 L377.3 139.8 L377.8 143.0 L378.2 144.4 L378.5 144.3 L379.0 142.5 L379.9 133.5 L380.9 115.5 L383.9 52.5 L384.9 39.6 L385.3 37.0 L385.8 36.2 L386.1 36.7 L386.5 39.2 L387.4 49.3 L391.3 128.2 L392.2 139.8 L392.6 143.0 L393.0 144.4 L393.3 144.3 L393.8 142.5 L394.7 133.5 L395.7 115.5 L398.7 52.5 L399.7 39.6 L400.2 37.0 L400.6 36.2 L400.9 36.7 L401.3 39.2 L402.2 49.3 L406.1 128.2 L407.0 139.8 L407.4 143.0 L407.9 144.4 L408.2 144.3 L408.6 142.5 L409.5 133.5 L410.5 115.5 L413.5 52.5 L414.5 39.6 L415.0 37.0 L415.4 36.2 L415.7 36.7 L416.2 39.2 L417.0 49.3 L420.9 128.2 L421.8 139.8 L422.2 143.0 L422.7 144.4 L423.0 144.3 L423.4 142.5 L424.3 133.5 L425.3 115.5 L428.3 52.5 L429.3 39.6 L429.8 37.0 L430.2 36.2 L430.5 36.7 L431.0 39.2 L431.9 49.3 L435.7 128.2 L436.6 139.8 L437.1 143.0 L437.5 144.4 L437.8 144.3 L438.2 142.5 L439.1 133.5 L440.2 115.5 L443.1 52.5 L444.2 39.6 L444.6 37.0 L445.1 36.2 L445.4 36.7 L445.8 39.2 L446.7 49.3 L450.5 128.2 L451.4 139.8 L451.9 143.0 L452.3 144.4 L452.5 144.5 L452.8 143.9 L453.2 141.5 L454.1 131.4 L457.9 52.5 L458.8 40.9 L459.3 37.6 L459.7 36.2 L459.9 36.2 L460.2 36.7 L460.6 39.2 L461.5 49.3 L465.4 128.2 L466.2 139.8 L466.7 143.0 L467.1 144.4 L467.3 144.5 L467.6 143.9 L468.0 141.5 L468.9 131.4 L472.8 52.5 L473.7 40.9 L474.1 37.6 L474.5 36.2 L474.7 36.2 L475.0 36.7 L475.4 39.2 L476.3 49.3 L480.2 128.2 L481.1 139.8 L481.5 143.0 L482.0 144.4 L482.1 144.5 L482.4 143.9 L482.8 141.5 L483.7 131.4 L487.6 52.5 L488.5 40.9 L488.9 37.6 L489.4 36.2 L489.5 36.2 L489.8 36.7 L490.3 39.2 L491.1 49.3 L495.0 128.2 L495.9 139.8 L496.3 143.0 L496.8 144.4 L496.9 144.5 L497.2 143.9 L497.7 141.5 L498.6 131.4 L502.4 52.5 L503.3 40.9 L503.7 37.6 L504.2 36.2 L504.3 36.2 L504.6 36.7 L505.1 39.2 L506.0 49.3 L509.7 125.6 L510.6 138.3 L511.0 142.2 L511.4 144.2 L511.7 144.5 L511.9 144.3 L512.3 142.5 L513.2 133.5 L514.3 115.5 L517.2 52.5 L518.1 40.9 L518.6 37.6 L519.0 36.2 L519.2 36.2 L519.4 36.7 L519.9 39.2 L520.8 49.3 L524.5 125.6 L525.4 138.3 L526.1 143.7 L526.6 144.5 L527.0 143.3 L527.4 140.3 L528.0 133.5 L529.1 115.5 L531.9 55.0 L532.8 42.4 L533.2 38.5 L533.7 36.5 L534.0 36.2 L534.1 36.4 L534.7 39.2 L535.7 51.6 L538.9 117.3" stroke="#b030d0" stroke-width="1.8" stroke-opacity="0.38" stroke-linecap="butt" mask="url(#mbc)"/>
<path d="M20.2 116.3 L26.1 112.4 L31.8 106.6 L33.7 105.0 L35.6 103.7 L39.5 101.9 L41.4 100.6 L46.6 95.6 L48.4 94.1 L50.0 93.1 L53.8 91.4 L55.8 90.3 L57.7 88.7 L61.7 84.8 L63.6 83.3 L65.2 82.4 L68.8 80.9 L70.6 79.9 L72.5 78.3 L76.5 74.5 L78.3 73.1 L80.1 72.1 L83.8 70.5 L85.4 69.5 L87.3 68.0 L91.2 64.3 L93.0 62.9 L94.7 61.9 L98.6 60.2 L100.2 59.2 L102.1 57.7 L106.0 54.0 L107.8 52.6 L109.6 51.5 L113.4 49.9 L115.0 48.9 L117.0 47.4 L120.8 43.6 L122.6 42.2 L124.5 41.2 L126.6 40.4 L127.3 40.4 L129.3 41.2 L130.0 41.1 L130.7 40.7 L132.1 39.4 L135.5 34.6 L136.5 33.8 L137.4 33.4 L138.2 33.4 L138.9 33.8 L142.6 37.4 L143.5 37.9 L144.4 38.1 L145.3 37.8 L146.2 37.2 L150.2 32.2 L151.2 31.3 L152.1 31.0 L152.8 31.1 L153.7 31.4 L157.4 34.8 L158.5 35.3 L159.3 35.4 L160.1 35.2 L161.0 34.7 L165.0 30.2 L166.0 29.5 L166.9 29.2 L167.6 29.2 L168.5 29.6 L172.4 32.9 L173.3 33.3 L174.2 33.4 L174.9 33.3 L175.8 32.8 L179.8 28.7 L180.8 28.0 L181.7 27.8 L182.5 27.8 L183.4 28.2 L187.2 31.3 L188.1 31.7 L189.0 31.9 L189.9 31.7 L190.8 31.2 L194.6 27.5 L195.5 26.9 L196.4 26.6 L197.3 26.7 L198.2 27.0 L202.0 30.1 L203.1 30.6 L204.0 30.7 L205.6 30.0 L209.4 26.5 L210.3 26.0 L211.2 25.8 L212.1 25.8 L213.0 26.2 L216.8 29.2 L217.9 29.6 L218.8 29.7 L220.4 29.1 L224.1 25.9 L225.0 25.4 L225.9 25.1 L226.8 25.1 L227.7 25.4 L231.7 28.4 L232.7 28.9 L233.6 29.0 L234.5 28.8 L235.4 28.4 L238.9 25.3 L240.6 24.5 L241.4 24.5 L242.5 24.9 L246.5 27.9 L247.5 28.3 L248.4 28.5 L249.3 28.3 L250.3 27.7 L254.2 24.6 L255.8 24.1 L256.7 24.2 L257.7 24.7 L261.6 27.6 L263.2 28.0 L264.1 27.9 L265.2 27.3 L269.0 24.2 L270.6 23.7 L271.5 23.9 L272.6 24.3 L276.4 27.3 L278.0 27.7 L278.9 27.5 L280.0 27.0 L283.8 24.0 L285.5 23.5 L286.3 23.6 L287.4 24.1 L291.2 27.0 L292.9 27.4 L293.8 27.3 L294.8 26.8 L298.6 23.8 L300.3 23.3 L301.2 23.4 L302.2 23.9 L306.1 26.8 L307.7 27.2 L308.6 27.1 L309.6 26.6 L313.5 23.6 L315.1 23.1 L316.0 23.2 L317.0 23.7 L320.9 26.6 L322.5 27.1 L323.4 26.9 L324.4 26.4 L328.3 23.5 L329.9 23.0 L330.8 23.1 L331.8 23.6 L335.7 26.5 L337.3 27.0 L338.2 26.8 L339.2 26.3 L343.1 23.4 L344.7 22.9 L345.6 23.0 L346.7 23.5 L350.5 26.4 L352.1 26.9 L353.0 26.7 L354.1 26.2 L357.9 23.3 L359.6 22.8 L361.2 23.3 L365.0 26.2 L366.1 26.7 L367.0 26.8 L367.9 26.6 L368.9 26.2 L372.7 23.2 L374.4 22.7 L376.0 23.2 L379.9 26.1 L380.9 26.6 L381.8 26.7 L382.7 26.6 L383.7 26.1 L387.6 23.2 L389.2 22.7 L390.8 23.2 L394.7 26.1 L395.7 26.6 L396.6 26.7 L397.5 26.5 L398.5 26.1 L402.4 23.1 L404.0 22.7 L405.6 23.1 L409.5 26.0 L410.5 26.5 L411.4 26.7 L413.0 26.2 L416.9 23.3 L417.8 22.8 L418.7 22.6 L419.6 22.7 L420.5 23.1 L424.3 26.0 L425.3 26.5 L426.2 26.6 L427.9 26.2 L431.7 23.2 L432.6 22.8 L433.5 22.6 L434.4 22.7 L435.3 23.1 L439.1 26.0 L440.2 26.5 L441.1 26.6 L442.7 26.1 L446.5 23.2 L447.4 22.8 L448.3 22.6 L449.2 22.7 L450.1 23.1 L453.9 26.0 L455.0 26.5 L455.9 26.6 L457.5 26.1 L461.4 23.2 L462.2 22.8 L463.1 22.6 L464.0 22.7 L464.9 23.0 L468.8 26.0 L469.8 26.4 L470.7 26.6 L472.3 26.1 L476.2 23.2 L477.1 22.8 L478.0 22.6 L478.8 22.7 L479.7 23.0 L483.6 25.9 L484.6 26.4 L485.5 26.6 L487.1 26.1 L491.0 23.2 L491.9 22.8 L492.8 22.6 L493.7 22.7 L494.6 23.0 L498.4 25.9 L499.4 26.4 L500.3 26.6 L502.0 26.1 L505.7 23.3 L507.4 22.6 L508.3 22.6 L509.2 22.9 L513.2 25.9 L514.3 26.4 L515.1 26.6 L516.0 26.4 L516.9 26.0 L520.5 23.3 L522.1 22.6 L523.0 22.6 L524.0 22.9 L528.0 25.9 L529.1 26.4 L530.0 26.6 L530.9 26.4 L531.9 25.9 L535.0 23.5 L536.2 22.8 L537.5 22.5 L538.9 22.9" stroke="#d40000" stroke-width="1.5"/>
<path d="M20.2 115.9 L24.1 113.4 L25.7 111.9 L27.3 109.9 L30.7 104.7 L32.5 102.7 L34.4 101.5 L38.3 100.9 L40.2 100.0 L42.1 98.0 L46.0 92.9 L47.6 91.3 L49.2 90.5 L53.1 90.1 L55.0 89.3 L57.0 87.4 L61.0 82.2 L62.9 80.5 L64.5 79.9 L68.1 79.7 L69.8 78.9 L71.8 77.0 L75.8 71.8 L77.5 70.3 L79.3 69.6 L83.0 69.3 L84.7 68.5 L86.6 66.7 L90.4 61.6 L92.2 60.0 L94.0 59.3 L97.9 59.0 L99.5 58.2 L101.4 56.4 L105.3 51.3 L107.0 49.7 L108.8 49.0 L112.7 48.7 L114.3 47.9 L116.2 46.1 L120.2 40.9 L122.0 39.3 L123.6 38.7 L125.6 38.7 L126.7 39.1 L128.2 40.3 L129.9 39.8 L131.2 39.1 L132.7 37.9 L134.2 36.2 L135.6 33.8 L137.0 31.2 L143.0 37.2 L145.6 36.3 L147.6 34.8 L149.7 32.3 L151.8 28.7 L157.9 34.6 L160.4 33.9 L162.5 32.5 L164.5 30.2 L166.6 26.8 L172.7 32.6 L175.2 31.9 L177.3 30.7 L179.4 28.5 L181.4 25.3 L187.5 31.0 L190.0 30.5 L192.2 29.2 L194.3 27.1 L196.2 24.2 L202.3 29.8 L204.8 29.3 L207.1 28.1 L209.1 26.1 L211.1 23.3 L217.1 28.9 L219.7 28.4 L221.9 27.3 L224.0 25.3 L225.9 22.5 L232.0 28.1 L234.5 27.7 L236.7 26.6 L238.8 24.7 L240.7 22.0 L246.8 27.6 L249.2 27.2 L250.8 26.6 L252.4 25.4 L254.0 23.7 L255.5 21.6 L261.6 27.1 L264.1 26.8 L266.3 25.7 L268.4 23.8 L270.3 21.2 L276.4 26.8 L278.9 26.5 L281.2 25.4 L283.2 23.5 L285.2 20.9 L291.2 26.5 L293.8 26.2 L296.0 25.2 L298.1 23.3 L300.0 20.7 L306.1 26.3 L308.6 26.0 L310.8 25.0 L312.9 23.1 L314.8 20.6 L320.9 26.2 L323.4 25.9 L325.6 24.8 L327.7 23.0 L329.6 20.4 L335.7 26.0 L338.2 25.7 L340.4 24.7 L342.5 22.9 L344.4 20.3 L350.5 26.0 L353.0 25.7 L355.3 24.6 L357.3 22.8 L359.3 20.3 L365.3 25.9 L367.9 25.6 L370.1 24.6 L372.1 22.7 L374.1 20.2 L380.2 25.8 L382.7 25.5 L384.9 24.5 L387.0 22.7 L388.9 20.2 L395.0 25.8 L397.5 25.5 L399.7 24.5 L401.8 22.7 L403.7 20.1 L409.8 25.7 L412.3 25.5 L414.5 24.4 L416.6 22.6 L418.5 20.1 L424.6 25.7 L427.1 25.4 L429.3 24.4 L431.4 22.6 L433.3 20.1 L439.4 25.7 L441.9 25.4 L444.2 24.4 L446.2 22.6 L448.2 20.0 L454.2 25.7 L456.8 25.4 L459.0 24.4 L461.1 22.6 L463.0 20.0 L469.1 25.7 L471.6 25.4 L473.8 24.4 L475.9 22.6 L477.8 20.0 L483.9 25.7 L486.4 25.4 L488.6 24.4 L490.7 22.6 L492.6 20.0 L498.7 25.6 L501.2 25.4 L503.4 24.3 L505.5 22.5 L507.4 20.0 L513.5 25.6 L516.0 25.4 L518.3 24.3 L520.3 22.5 L522.3 20.0 L528.3 25.6 L530.9 25.4 L533.1 24.3 L535.2 22.5 L537.1 20.0 L538.9 21.6" stroke="#10dc10" stroke-width="1.5"/>
</g>
<rect x="20.3" y="5.3" width="518.4" height="154.2" fill="none" stroke="#8a8a8a" stroke-width="1.05"/>
<path d="M95.3 200.3V370.4M169.9 200.3V370.4M244.5 200.3V370.4M319.1 200.3V370.4M393.7 200.3V370.4M468.2 200.3V370.4M20.9 353.3H542.5M20.9 333.7H542.5M20.9 314.0H542.5M20.9 294.4H542.5M20.9 274.7H542.5M20.9 255.1H542.5M20.9 235.4H542.5M20.9 215.8H542.5" stroke="#c4c4c4" stroke-width="1.1" fill="none"/>
<path d="M95.3 370.4v-4M95.3 200.3v4M169.9 370.4v-4M169.9 200.3v4M244.5 370.4v-4M244.5 200.3v4M319.1 370.4v-4M319.1 200.3v4M393.7 370.4v-4M393.7 200.3v4M468.2 370.4v-4M468.2 200.3v4M20.9 353.3h4M542.5 353.3h-4M20.9 333.7h4M542.5 333.7h-4M20.9 314.0h4M542.5 314.0h-4M20.9 294.4h4M542.5 294.4h-4M20.9 274.7h4M542.5 274.7h-4M20.9 255.1h4M542.5 255.1h-4M20.9 235.4h4M542.5 235.4h-4M20.9 215.8h4M542.5 215.8h-4" stroke="#6a6a6a" stroke-width="1" fill="none"/>
<clipPath id="clipd"><rect x="20.85" y="200.3" width="521.7" height="170.1"/></clipPath>
<g clip-path="url(#clipd)" fill="none" stroke-linejoin="round" stroke-linecap="round">
<path d="M20.7 333.6 L21.6 344.8 L22.4 350.8 L22.8 352.8 L23.3 353.3 L23.6 352.9 L24.0 351.2 L24.8 345.4 L25.5 336.5 L28.9 284.9 L29.8 277.2 L30.3 275.3 L30.7 274.7 L31.2 275.6 L31.6 277.8 L32.7 287.7 L35.5 331.4 L36.5 344.8 L37.4 351.6 L37.9 353.1 L38.2 353.3 L38.6 352.5 L39.1 350.3 L40.1 340.4 L43.0 296.6 L44.0 283.3 L44.9 276.4 L45.3 275.0 L45.6 274.7 L46.1 275.6 L46.5 277.8 L47.6 287.7 L50.4 331.4 L51.5 344.8 L52.4 351.6 L52.8 353.1 L53.1 353.3 L53.5 352.5 L54.0 350.3 L55.0 340.4 L57.9 296.6 L58.9 283.3 L59.8 276.4 L60.3 275.0 L60.6 274.7 L61.0 275.6 L61.5 277.8 L62.5 287.7 L65.3 331.4 L66.4 344.8 L67.3 351.6 L67.7 353.1 L68.0 353.3 L68.5 352.5 L68.9 350.3 L70.0 340.4 L72.8 296.6 L73.8 283.3 L74.7 276.4 L75.2 275.0 L75.5 274.7 L75.9 275.6 L76.4 277.8 L77.4 287.7 L80.2 331.4 L81.3 344.8 L82.2 351.6 L82.6 353.1 L82.9 353.3 L83.4 352.5 L83.8 350.3 L84.9 340.4 L87.7 296.6 L88.8 283.3 L89.6 276.4 L90.1 275.0 L90.4 274.7 L90.8 275.6 L91.3 277.8 L92.3 287.7 L95.2 331.4 L96.2 344.8 L97.1 351.6 L97.6 353.1 L97.9 353.3 L98.3 352.5 L98.7 350.3 L99.8 340.4 L102.6 296.6 L103.7 283.3 L104.6 276.4 L105.0 275.0 L105.3 274.7 L105.8 275.6 L106.2 277.8 L107.2 287.7 L110.1 331.4 L111.1 344.8 L112.0 351.6 L112.5 353.1 L112.8 353.3 L113.2 352.5 L113.7 350.3 L114.7 340.4 L117.5 296.6 L118.6 283.3 L119.5 276.4 L119.9 275.0 L120.2 274.7 L120.7 275.6 L121.1 277.8 L122.2 287.7 L125.0 331.4 L126.0 344.8 L126.9 351.6 L127.4 353.1 L127.7 353.3 L128.1 352.5 L128.6 350.3 L129.6 340.4 L132.5 296.6 L133.5 283.3 L134.4 276.4 L134.8 275.0 L135.1 274.7 L135.6 275.6 L136.0 277.8 L137.1 287.7 L139.9 331.4 L141.0 344.8 L141.9 351.6 L142.3 353.1 L142.6 353.3 L143.1 352.5 L143.5 350.3 L144.5 340.4 L147.4 296.6 L148.4 283.3 L149.3 276.4 L149.8 275.0 L150.1 274.7 L150.5 275.6 L151.0 277.8 L152.0 287.7 L154.8 331.4 L155.9 344.8 L156.8 351.6 L157.2 353.1 L157.5 353.3 L158.0 352.5 L158.4 350.3 L159.5 340.4 L162.3 296.6 L163.3 283.3 L164.2 276.4 L164.7 275.0 L165.0 274.7 L165.4 275.6 L165.9 277.8 L166.9 287.7 L169.8 331.4 L170.8 344.8 L171.7 351.6 L172.1 353.1 L172.4 353.3 L172.9 352.5 L173.3 350.3 L174.4 340.4 L177.2 296.6 L178.3 283.3 L179.2 276.4 L179.6 275.0 L179.9 274.7 L180.3 275.6 L180.8 277.8 L181.8 287.7 L184.7 331.4 L185.7 344.8 L186.6 351.6 L187.1 353.1 L187.4 353.3 L187.8 352.5 L188.2 350.3 L189.3 340.4 L192.1 296.6 L193.2 283.3 L194.1 276.4 L194.5 275.0 L194.8 274.7 L195.3 275.6 L195.7 277.8 L196.8 287.7 L199.6 331.4 L200.6 344.8 L201.5 351.6 L202.0 353.1 L202.3 353.3 L202.7 352.5 L203.2 350.3 L204.2 340.4 L207.0 296.6 L208.1 283.3 L209.0 276.4 L209.4 275.0 L209.7 274.7 L210.2 275.6 L210.6 277.8 L211.7 287.7 L214.5 331.4 L215.5 344.8 L216.4 351.6 L216.9 353.1 L217.2 353.3 L217.6 352.5 L218.1 350.3 L219.1 340.4 L222.0 296.6 L223.0 283.3 L223.9 276.4 L224.3 275.0 L224.6 274.7 L225.1 275.6 L225.5 277.8 L226.6 287.7 L229.4 331.4 L230.5 344.8 L231.4 351.6 L231.8 353.1 L232.1 353.3 L232.6 352.5 L233.0 350.3 L234.0 340.4 L236.9 296.6 L237.9 283.3 L238.8 276.4 L239.3 275.0 L239.6 274.7 L240.0 275.6 L240.5 277.8 L241.5 287.7 L244.3 331.4 L245.4 344.8 L246.3 351.6 L246.7 353.1 L247.0 353.3 L247.5 352.5 L247.9 350.3 L249.0 340.4 L251.8 296.6 L252.8 283.3 L253.7 276.4 L254.2 275.0 L254.5 274.7 L254.9 275.6 L255.4 277.8 L256.4 287.7 L259.3 331.4 L260.3 344.8 L261.2 351.6 L261.6 353.1 L261.9 353.3 L262.4 352.5 L262.8 350.3 L263.9 340.4 L266.7 296.6 L267.8 283.3 L268.7 276.4 L269.1 275.0 L269.4 274.7 L269.7 275.1 L270.1 276.9 L271.0 284.2 L274.9 341.5 L275.8 349.9 L276.3 352.3 L276.7 353.3 L277.0 353.2 L277.5 351.9 L278.3 345.4 L279.4 332.3 L282.4 286.6 L283.4 277.2 L283.9 275.3 L284.3 274.7 L284.6 275.1 L285.1 276.9 L286.0 284.2 L289.8 341.5 L290.7 349.9 L291.2 352.3 L291.6 353.3 L291.9 353.2 L292.4 351.9 L293.3 345.4 L294.3 332.3 L297.3 286.6 L298.3 277.2 L298.8 275.3 L299.2 274.7 L299.5 275.1 L300.0 276.9 L300.9 284.2 L304.8 341.5 L305.6 349.9 L306.1 352.3 L306.5 353.3 L306.8 353.2 L307.3 351.9 L308.2 345.4 L309.2 332.3 L312.2 286.6 L313.3 277.2 L313.7 275.3 L314.2 274.7 L314.4 275.1 L314.9 276.9 L315.8 284.2 L319.7 341.5 L320.6 349.9 L321.0 352.3 L321.5 353.3 L321.8 353.2 L322.2 351.9 L323.1 345.4 L324.1 332.3 L327.1 286.6 L328.2 277.2 L328.6 275.3 L329.1 274.7 L329.4 275.1 L329.8 276.9 L330.7 284.2 L334.6 341.5 L335.5 349.9 L335.9 352.3 L336.4 353.3 L336.7 353.2 L337.1 351.9 L338.0 345.4 L339.1 332.3 L342.0 286.6 L343.1 277.2 L343.5 275.3 L344.0 274.7 L344.3 275.1 L344.7 276.9 L345.6 284.2 L349.5 341.5 L350.4 349.9 L350.8 352.3 L351.3 353.3 L351.6 353.2 L352.0 351.9 L352.9 345.4 L354.0 332.3 L357.0 286.6 L358.0 277.2 L358.5 275.3 L358.9 274.7 L359.2 275.1 L359.6 276.9 L360.5 284.2 L364.4 341.5 L365.3 349.9 L365.8 352.3 L366.2 353.3 L366.5 353.2 L367.0 351.9 L367.9 345.4 L368.9 332.3 L371.9 286.6 L372.9 277.2 L373.4 275.3 L373.8 274.7 L374.1 275.1 L374.6 276.9 L375.5 284.2 L379.3 341.5 L380.2 349.9 L380.7 352.3 L381.1 353.3 L381.4 353.2 L381.9 351.9 L382.8 345.4 L383.8 332.3 L386.8 286.6 L387.8 277.2 L388.3 275.3 L388.7 274.7 L389.0 275.1 L389.5 276.9 L390.4 284.2 L394.3 341.5 L395.2 349.9 L395.6 352.3 L396.0 353.3 L396.3 353.2 L396.8 351.9 L397.7 345.4 L398.7 332.3 L401.7 286.6 L402.8 277.2 L403.2 275.3 L403.7 274.7 L404.0 275.1 L404.4 276.9 L405.3 284.2 L409.2 341.5 L410.1 349.9 L410.5 352.3 L411.0 353.3 L411.3 353.2 L411.7 351.9 L412.6 345.4 L413.6 332.3 L416.6 286.6 L417.7 277.2 L418.1 275.3 L418.6 274.7 L418.9 275.1 L419.3 276.9 L420.2 284.2 L424.1 341.5 L425.0 349.9 L425.4 352.3 L425.9 353.3 L426.2 353.2 L426.6 351.9 L427.5 345.4 L428.6 332.3 L431.5 286.6 L432.6 277.2 L433.0 275.3 L433.5 274.7 L433.8 275.1 L434.2 276.9 L435.1 284.2 L439.0 341.5 L439.9 349.9 L440.3 352.3 L440.8 353.3 L441.1 353.2 L441.5 351.9 L442.4 345.4 L443.5 332.3 L446.5 286.6 L447.5 277.2 L448.0 275.3 L448.4 274.7 L448.7 275.1 L449.2 276.9 L450.0 284.2 L453.9 341.5 L454.8 349.9 L455.3 352.3 L455.7 353.3 L456.2 352.9 L456.6 351.2 L457.5 343.8 L461.4 286.6 L462.3 278.2 L462.7 275.8 L463.2 274.8 L463.6 275.1 L464.1 276.9 L465.0 284.2 L468.8 341.5 L469.7 349.9 L470.2 352.3 L470.6 353.3 L471.1 352.9 L471.5 351.2 L472.4 343.8 L476.3 286.6 L477.2 278.2 L477.6 275.8 L478.1 274.8 L478.5 275.1 L479.0 276.9 L479.9 284.2 L483.8 341.5 L484.7 349.9 L485.1 352.3 L485.5 353.3 L486.0 352.9 L486.4 351.2 L487.3 343.8 L491.2 286.6 L492.1 278.2 L492.6 275.8 L493.0 274.8 L493.5 275.1 L493.9 276.9 L494.8 284.2 L498.7 341.5 L499.6 349.9 L500.0 352.3 L500.5 353.3 L500.9 352.9 L501.4 351.2 L502.3 343.8 L506.1 286.6 L507.0 278.2 L507.5 275.8 L507.9 274.8 L508.4 275.1 L508.8 276.9 L509.7 284.2 L513.4 339.6 L514.3 348.8 L514.8 351.6 L515.2 353.1 L515.5 353.3 L515.7 353.2 L516.1 351.9 L517.0 345.4 L518.1 332.3 L521.1 286.6 L521.9 278.2 L522.4 275.8 L522.8 274.8 L523.3 275.1 L523.7 276.9 L524.6 284.2 L528.4 339.6 L529.3 348.8 L530.0 352.8 L530.4 353.3 L530.9 352.5 L531.3 350.3 L531.9 345.4 L533.0 332.3 L535.8 288.4 L536.7 279.2 L537.2 276.4 L537.6 275.0 L537.9 274.7 L538.1 274.9 L538.7 276.9 L539.7 285.9 L542.8 333.6" stroke="#efc2ef" stroke-width="1.3"/>
<path d="M20.7 333.6 L21.6 344.8 L22.4 350.8 L22.8 352.8 L23.3 353.3 L23.6 352.9 L24.0 351.2 L24.8 345.4 L25.5 336.5 L28.9 284.9 L29.8 277.2 L30.3 275.3 L30.7 274.7 L31.2 275.6 L31.6 277.8 L32.7 287.7 L35.5 331.4 L36.5 344.8 L37.4 351.6 L37.9 353.1 L38.2 353.3 L38.6 352.5 L39.1 350.3 L40.1 340.4 L43.0 296.6 L44.0 283.3 L44.9 276.4 L45.3 275.0 L45.6 274.7 L46.1 275.6 L46.5 277.8 L47.6 287.7 L50.4 331.4 L51.5 344.8 L52.4 351.6 L52.8 353.1 L53.1 353.3 L53.5 352.5 L54.0 350.3 L55.0 340.4 L57.9 296.6 L58.9 283.3 L59.8 276.4 L60.3 275.0 L60.6 274.7 L61.0 275.6 L61.5 277.8 L62.5 287.7 L65.3 331.4 L66.4 344.8 L67.3 351.6 L67.7 353.1 L68.0 353.3 L68.5 352.5 L68.9 350.3 L70.0 340.4 L72.8 296.6 L73.8 283.3 L74.7 276.4 L75.2 275.0 L75.5 274.7 L75.9 275.6 L76.4 277.8 L77.4 287.7 L80.2 331.4 L81.3 344.8 L82.2 351.6 L82.6 353.1 L82.9 353.3 L83.4 352.5 L83.8 350.3 L84.9 340.4 L87.7 296.6 L88.8 283.3 L89.6 276.4 L90.1 275.0 L90.4 274.7 L90.8 275.6 L91.3 277.8 L92.3 287.7 L95.2 331.4 L96.2 344.8 L97.1 351.6 L97.6 353.1 L97.9 353.3 L98.3 352.5 L98.7 350.3 L99.8 340.4 L102.6 296.6 L103.7 283.3 L104.6 276.4 L105.0 275.0 L105.3 274.7 L105.8 275.6 L106.2 277.8 L107.2 287.7 L110.1 331.4 L111.1 344.8 L112.0 351.6 L112.5 353.1 L112.8 353.3 L113.2 352.5 L113.7 350.3 L114.7 340.4 L117.5 296.6 L118.6 283.3 L119.5 276.4 L119.9 275.0 L120.2 274.7 L120.7 275.6 L121.1 277.8 L122.2 287.7 L125.0 331.4 L126.0 344.8 L126.9 351.6 L127.4 353.1 L127.7 353.3 L128.1 352.5 L128.6 350.3 L129.6 340.4 L132.5 296.6 L133.5 283.3 L134.4 276.4 L134.8 275.0 L135.1 274.7 L135.6 275.6 L136.0 277.8 L137.1 287.7 L139.9 331.4 L141.0 344.8 L141.9 351.6 L142.3 353.1 L142.6 353.3 L143.1 352.5 L143.5 350.3 L144.5 340.4 L147.4 296.6 L148.4 283.3 L149.3 276.4 L149.8 275.0 L150.1 274.7 L150.5 275.6 L151.0 277.8 L152.0 287.7 L154.8 331.4 L155.9 344.8 L156.8 351.6 L157.2 353.1 L157.5 353.3 L158.0 352.5 L158.4 350.3 L159.5 340.4 L162.3 296.6 L163.3 283.3 L164.2 276.4 L164.7 275.0 L165.0 274.7 L165.4 275.6 L165.9 277.8 L166.9 287.7 L169.8 331.4 L170.8 344.8 L171.7 351.6 L172.1 353.1 L172.4 353.3 L172.9 352.5 L173.3 350.3 L174.4 340.4 L177.2 296.6 L178.3 283.3 L179.2 276.4 L179.6 275.0 L179.9 274.7 L180.3 275.6 L180.8 277.8 L181.8 287.7 L184.7 331.4 L185.7 344.8 L186.6 351.6 L187.1 353.1 L187.4 353.3 L187.8 352.5 L188.2 350.3 L189.3 340.4 L192.1 296.6 L193.2 283.3 L194.1 276.4 L194.5 275.0 L194.8 274.7 L195.3 275.6 L195.7 277.8 L196.8 287.7 L199.6 331.4 L200.6 344.8 L201.5 351.6 L202.0 353.1 L202.3 353.3 L202.7 352.5 L203.2 350.3 L204.2 340.4 L207.0 296.6 L208.1 283.3 L209.0 276.4 L209.4 275.0 L209.7 274.7 L210.2 275.6 L210.6 277.8 L211.7 287.7 L214.5 331.4 L215.5 344.8 L216.4 351.6 L216.9 353.1 L217.2 353.3 L217.6 352.5 L218.1 350.3 L219.1 340.4 L222.0 296.6 L223.0 283.3 L223.9 276.4 L224.3 275.0 L224.6 274.7 L225.1 275.6 L225.5 277.8 L226.6 287.7 L229.4 331.4 L230.5 344.8 L231.4 351.6 L231.8 353.1 L232.1 353.3 L232.6 352.5 L233.0 350.3 L234.0 340.4 L236.9 296.6 L237.9 283.3 L238.8 276.4 L239.3 275.0 L239.6 274.7 L240.0 275.6 L240.5 277.8 L241.5 287.7 L244.3 331.4 L245.4 344.8 L246.3 351.6 L246.7 353.1 L247.0 353.3 L247.5 352.5 L247.9 350.3 L249.0 340.4 L251.8 296.6 L252.8 283.3 L253.7 276.4 L254.2 275.0 L254.5 274.7 L254.9 275.6 L255.4 277.8 L256.4 287.7 L259.3 331.4 L260.3 344.8 L261.2 351.6 L261.6 353.1 L261.9 353.3 L262.4 352.5 L262.8 350.3 L263.9 340.4 L266.7 296.6 L267.8 283.3 L268.7 276.4 L269.1 275.0 L269.4 274.7 L269.7 275.1 L270.1 276.9 L271.0 284.2 L274.9 341.5 L275.8 349.9 L276.3 352.3 L276.7 353.3 L277.0 353.2 L277.5 351.9 L278.3 345.4 L279.4 332.3 L282.4 286.6 L283.4 277.2 L283.9 275.3 L284.3 274.7 L284.6 275.1 L285.1 276.9 L286.0 284.2 L289.8 341.5 L290.7 349.9 L291.2 352.3 L291.6 353.3 L291.9 353.2 L292.4 351.9 L293.3 345.4 L294.3 332.3 L297.3 286.6 L298.3 277.2 L298.8 275.3 L299.2 274.7 L299.5 275.1 L300.0 276.9 L300.9 284.2 L304.8 341.5 L305.6 349.9 L306.1 352.3 L306.5 353.3 L306.8 353.2 L307.3 351.9 L308.2 345.4 L309.2 332.3 L312.2 286.6 L313.3 277.2 L313.7 275.3 L314.2 274.7 L314.4 275.1 L314.9 276.9 L315.8 284.2 L319.7 341.5 L320.6 349.9 L321.0 352.3 L321.5 353.3 L321.8 353.2 L322.2 351.9 L323.1 345.4 L324.1 332.3 L327.1 286.6 L328.2 277.2 L328.6 275.3 L329.1 274.7 L329.4 275.1 L329.8 276.9 L330.7 284.2 L334.6 341.5 L335.5 349.9 L335.9 352.3 L336.4 353.3 L336.7 353.2 L337.1 351.9 L338.0 345.4 L339.1 332.3 L342.0 286.6 L343.1 277.2 L343.5 275.3 L344.0 274.7 L344.3 275.1 L344.7 276.9 L345.6 284.2 L349.5 341.5 L350.4 349.9 L350.8 352.3 L351.3 353.3 L351.6 353.2 L352.0 351.9 L352.9 345.4 L354.0 332.3 L357.0 286.6 L358.0 277.2 L358.5 275.3 L358.9 274.7 L359.2 275.1 L359.6 276.9 L360.5 284.2 L364.4 341.5 L365.3 349.9 L365.8 352.3 L366.2 353.3 L366.5 353.2 L367.0 351.9 L367.9 345.4 L368.9 332.3 L371.9 286.6 L372.9 277.2 L373.4 275.3 L373.8 274.7 L374.1 275.1 L374.6 276.9 L375.5 284.2 L379.3 341.5 L380.2 349.9 L380.7 352.3 L381.1 353.3 L381.4 353.2 L381.9 351.9 L382.8 345.4 L383.8 332.3 L386.8 286.6 L387.8 277.2 L388.3 275.3 L388.7 274.7 L389.0 275.1 L389.5 276.9 L390.4 284.2 L394.3 341.5 L395.2 349.9 L395.6 352.3 L396.0 353.3 L396.3 353.2 L396.8 351.9 L397.7 345.4 L398.7 332.3 L401.7 286.6 L402.8 277.2 L403.2 275.3 L403.7 274.7 L404.0 275.1 L404.4 276.9 L405.3 284.2 L409.2 341.5 L410.1 349.9 L410.5 352.3 L411.0 353.3 L411.3 353.2 L411.7 351.9 L412.6 345.4 L413.6 332.3 L416.6 286.6 L417.7 277.2 L418.1 275.3 L418.6 274.7 L418.9 275.1 L419.3 276.9 L420.2 284.2 L424.1 341.5 L425.0 349.9 L425.4 352.3 L425.9 353.3 L426.2 353.2 L426.6 351.9 L427.5 345.4 L428.6 332.3 L431.5 286.6 L432.6 277.2 L433.0 275.3 L433.5 274.7 L433.8 275.1 L434.2 276.9 L435.1 284.2 L439.0 341.5 L439.9 349.9 L440.3 352.3 L440.8 353.3 L441.1 353.2 L441.5 351.9 L442.4 345.4 L443.5 332.3 L446.5 286.6 L447.5 277.2 L448.0 275.3 L448.4 274.7 L448.7 275.1 L449.2 276.9 L450.0 284.2 L453.9 341.5 L454.8 349.9 L455.3 352.3 L455.7 353.3 L456.2 352.9 L456.6 351.2 L457.5 343.8 L461.4 286.6 L462.3 278.2 L462.7 275.8 L463.2 274.8 L463.6 275.1 L464.1 276.9 L465.0 284.2 L468.8 341.5 L469.7 349.9 L470.2 352.3 L470.6 353.3 L471.1 352.9 L471.5 351.2 L472.4 343.8 L476.3 286.6 L477.2 278.2 L477.6 275.8 L478.1 274.8 L478.5 275.1 L479.0 276.9 L479.9 284.2 L483.8 341.5 L484.7 349.9 L485.1 352.3 L485.5 353.3 L486.0 352.9 L486.4 351.2 L487.3 343.8 L491.2 286.6 L492.1 278.2 L492.6 275.8 L493.0 274.8 L493.5 275.1 L493.9 276.9 L494.8 284.2 L498.7 341.5 L499.6 349.9 L500.0 352.3 L500.5 353.3 L500.9 352.9 L501.4 351.2 L502.3 343.8 L506.1 286.6 L507.0 278.2 L507.5 275.8 L507.9 274.8 L508.4 275.1 L508.8 276.9 L509.7 284.2 L513.4 339.6 L514.3 348.8 L514.8 351.6 L515.2 353.1 L515.5 353.3 L515.7 353.2 L516.1 351.9 L517.0 345.4 L518.1 332.3 L521.1 286.6 L521.9 278.2 L522.4 275.8 L522.8 274.8 L523.3 275.1 L523.7 276.9 L524.6 284.2 L528.4 339.6 L529.3 348.8 L530.0 352.8 L530.4 353.3 L530.9 352.5 L531.3 350.3 L531.9 345.4 L533.0 332.3 L535.8 288.4 L536.7 279.2 L537.2 276.4 L537.6 275.0 L537.9 274.7 L538.1 274.9 L538.7 276.9 L539.7 285.9 L542.8 333.6" stroke="#c060c4" stroke-width="1.2" stroke-dasharray="1.1 1.3" stroke-linecap="butt"/>
<path d="M20.7 332.1 L20.7 282.6 L21.6 284.5 L22.5 285.4 L22.9 285.4 L23.3 285.2 L24.1 283.9 L25.6 279.4 L28.7 265.9 L30.0 262.1 L30.5 261.2 L31.1 260.9 L31.6 261.0 L32.2 261.5 L33.3 263.7 L36.3 271.8 L37.3 273.1 L37.8 273.3 L38.2 273.0 L39.1 271.7 L40.1 268.8 L43.1 255.8 L44.1 251.8 L45.1 249.5 L45.6 248.9 L46.1 248.7 L46.9 249.1 L47.8 250.6 L50.4 257.9 L51.4 260.0 L52.2 261.0 L52.7 261.1 L53.1 260.9 L54.0 259.4 L55.0 256.5 L59.0 239.8 L59.9 237.5 L60.8 236.5 L61.2 236.5 L61.7 236.8 L62.6 238.2 L65.4 245.8 L66.3 247.8 L67.2 248.8 L67.6 248.9 L68.0 248.7 L68.9 247.3 L69.9 244.4 L72.9 231.4 L74.0 227.3 L75.1 224.9 L75.6 224.4 L76.1 224.3 L76.8 224.8 L77.4 225.8 L77.4 288.0 L80.9 340.7 L82.9 347.0 L84.9 340.4 L88.6 284.6 L88.7 226.4 L89.4 222.7 L89.8 221.9 L90.2 221.7 L90.5 222.1 L90.8 222.9 L91.5 226.3 L91.5 279.6 L92.8 293.8 L95.8 340.6 L97.8 347.0 L99.8 340.6 L102.6 296.4 L103.6 283.8 L103.7 224.2 L104.3 220.9 L104.7 220.0 L105.0 219.7 L105.3 220.1 L105.6 220.9 L106.2 224.3 L106.3 278.2 L107.7 293.0 L110.7 340.4 L112.8 346.9 L114.7 340.7 L117.7 294.0 L119.0 279.7 L119.0 222.7 L119.5 219.3 L120.0 218.2 L120.5 219.3 L121.0 222.7 L121.0 277.2 L121.7 282.5 L122.5 291.5 L125.7 340.7 L127.7 347.0 L129.6 340.4 L132.9 290.5 L133.7 281.4 L134.5 276.2 L134.5 221.2 L134.7 218.2 L135.0 217.0 L135.2 217.8 L135.5 221.2 L135.5 275.4 L136.3 280.0 L137.2 289.6 L140.6 340.6 L142.6 347.0 L144.5 340.6 L148.0 288.4 L149.1 276.8 L149.6 273.3 L149.9 272.4 L150.3 273.6 L151.0 277.7 L152.0 287.7 L155.5 340.4 L157.5 347.0 L159.4 340.7 L162.9 288.0 L164.1 276.2 L164.6 273.1 L164.9 272.4 L165.3 273.7 L166.0 278.2 L166.9 288.0 L170.4 340.7 L172.4 347.0 L174.4 340.4 L177.8 288.2 L179.0 276.3 L179.5 273.2 L179.8 272.4 L180.2 273.6 L180.8 277.8 L181.9 287.9 L185.3 340.6 L187.3 347.0 L189.3 340.6 L192.7 288.4 L193.9 276.8 L194.4 273.3 L194.7 272.4 L195.1 273.6 L195.7 277.7 L196.8 287.7 L200.2 340.4 L202.2 347.0 L204.2 340.7 L207.7 288.0 L208.9 276.2 L209.3 273.1 L209.6 272.4 L210.0 273.7 L210.7 278.2 L211.7 288.0 L215.2 340.7 L217.2 347.0 L219.1 340.4 L222.6 288.2 L223.8 276.3 L224.2 273.2 L224.5 272.4 L224.9 273.6 L225.6 277.8 L226.6 287.9 L230.1 340.6 L232.1 347.0 L234.0 340.6 L237.5 288.4 L238.6 276.8 L239.1 273.3 L239.4 272.4 L239.8 273.6 L240.5 277.7 L241.5 287.7 L245.0 340.4 L247.0 347.0 L248.9 340.7 L252.4 288.0 L253.6 276.2 L254.1 273.1 L254.4 272.4 L254.8 273.7 L255.5 278.2 L256.5 288.0 L259.9 340.7 L261.9 347.0 L263.9 340.4 L267.3 288.2 L268.5 276.3 L269.0 273.2 L269.3 272.4 L269.7 273.6 L270.3 277.8 L271.4 287.9 L274.8 340.6 L276.8 347.0 L278.8 340.6 L282.2 288.4 L283.4 276.8 L283.9 273.3 L284.2 272.4 L284.6 273.6 L285.2 277.7 L286.3 287.7 L289.7 340.4 L291.7 347.0 L293.7 340.7 L297.2 288.0 L298.4 276.2 L298.8 273.1 L299.1 272.4 L299.5 273.7 L300.2 278.2 L301.2 288.0 L304.7 340.7 L306.7 347.0 L308.6 340.4 L312.1 288.2 L313.3 276.3 L313.7 273.2 L314.0 272.4 L314.4 273.6 L315.1 277.8 L316.1 287.9 L319.6 340.6 L321.6 347.0 L323.5 340.6 L327.0 288.4 L328.1 276.8 L328.6 273.3 L328.9 272.4 L329.4 273.6 L330.0 277.7 L331.0 287.7 L334.5 340.4 L336.5 347.0 L338.4 340.7 L341.9 288.0 L343.1 276.2 L343.6 273.1 L343.9 272.4 L344.3 273.7 L345.0 278.2 L346.0 288.0 L349.4 340.7 L351.4 347.0 L353.4 340.4 L356.8 288.2 L358.0 276.3 L358.5 273.2 L358.8 272.4 L359.2 273.6 L359.8 277.8 L360.9 287.9 L364.3 340.6 L366.3 347.0 L368.3 340.6 L371.7 288.4 L372.9 276.8 L373.4 273.3 L373.7 272.4 L374.1 273.6 L374.7 277.7 L375.8 287.7 L379.2 340.4 L381.2 347.0 L383.2 340.7 L386.6 288.6 L387.8 277.3 L388.2 273.6 L388.6 272.4 L389.0 273.5 L389.6 277.6 L390.7 287.5 L394.2 340.7 L396.2 347.0 L398.1 340.4 L401.6 288.2 L402.8 276.3 L403.2 273.2 L403.5 272.4 L404.0 273.6 L404.6 277.8 L405.6 287.9 L409.1 340.6 L411.1 347.0 L413.0 340.6 L416.5 288.4 L417.6 276.8 L418.1 273.3 L418.5 272.4 L418.9 273.6 L419.5 277.7 L420.5 287.7 L424.0 340.4 L426.0 347.0 L427.9 340.7 L431.4 288.6 L432.5 277.3 L433.0 273.6 L433.4 272.4 L433.8 273.5 L434.4 277.6 L435.4 287.5 L438.9 340.7 L440.9 347.0 L442.9 340.4 L446.3 288.2 L447.5 276.3 L448.0 273.2 L448.3 272.4 L448.7 273.6 L449.3 277.8 L450.4 287.9 L453.8 340.6 L455.8 347.0 L457.8 340.6 L461.2 288.4 L462.4 276.8 L462.9 273.3 L463.2 272.4 L463.6 273.6 L464.2 277.7 L465.3 287.7 L468.8 340.4 L470.7 347.0 L472.7 340.7 L476.1 288.6 L477.3 277.3 L477.7 273.6 L478.1 272.4 L478.5 273.5 L479.1 277.6 L480.2 287.5 L483.7 340.7 L485.7 347.0 L487.6 340.4 L491.1 288.2 L492.3 276.3 L492.7 273.2 L493.1 272.4 L493.5 273.6 L494.1 277.8 L495.1 287.9 L498.6 340.6 L500.6 347.0 L502.5 340.6 L506.0 288.4 L507.1 276.8 L507.6 273.3 L508.0 272.4 L508.4 273.6 L509.0 277.7 L510.0 287.7 L513.5 340.4 L515.5 347.0 L517.4 340.7 L520.9 288.6 L522.0 277.3 L522.5 273.6 L522.9 272.4 L523.3 273.5 L523.9 277.6 L524.9 287.5 L528.4 340.7 L530.4 346.9 L532.4 340.4 L535.8 288.8 L536.9 277.8 L537.4 273.7 L537.8 272.4 L538.1 273.2 L538.7 277.1 L539.8 287.3 L542.8 333.4" stroke="#2020c0" stroke-width="1.45"/>
<mask id="mbd" maskUnits="userSpaceOnUse" x="0" y="0" width="550" height="412"><path d="M20.7 332.1 L20.7 282.6 L21.6 284.5 L22.5 285.4 L22.9 285.4 L23.3 285.2 L24.1 283.9 L25.6 279.4 L28.7 265.9 L30.0 262.1 L30.5 261.2 L31.1 260.9 L31.6 261.0 L32.2 261.5 L33.3 263.7 L36.3 271.8 L37.3 273.1 L37.8 273.3 L38.2 273.0 L39.1 271.7 L40.1 268.8 L43.1 255.8 L44.1 251.8 L45.1 249.5 L45.6 248.9 L46.1 248.7 L46.9 249.1 L47.8 250.6 L50.4 257.9 L51.4 260.0 L52.2 261.0 L52.7 261.1 L53.1 260.9 L54.0 259.4 L55.0 256.5 L59.0 239.8 L59.9 237.5 L60.8 236.5 L61.2 236.5 L61.7 236.8 L62.6 238.2 L65.4 245.8 L66.3 247.8 L67.2 248.8 L67.6 248.9 L68.0 248.7 L68.9 247.3 L69.9 244.4 L72.9 231.4 L74.0 227.3 L75.1 224.9 L75.6 224.4 L76.1 224.3 L76.8 224.8 L77.4 225.8 L77.4 288.0 L80.9 340.7 L82.9 347.0 L84.9 340.4 L88.6 284.6 L88.7 226.4 L89.4 222.7 L89.8 221.9 L90.2 221.7 L90.5 222.1 L90.8 222.9 L91.5 226.3 L91.5 279.6 L92.8 293.8 L95.8 340.6 L97.8 347.0 L99.8 340.6 L102.6 296.4 L103.6 283.8 L103.7 224.2 L104.3 220.9 L104.7 220.0 L105.0 219.7 L105.3 220.1 L105.6 220.9 L106.2 224.3 L106.3 278.2 L107.7 293.0 L110.7 340.4 L112.8 346.9 L114.7 340.7 L117.7 294.0 L119.0 279.7 L119.0 222.7 L119.5 219.3 L120.0 218.2 L120.5 219.3 L121.0 222.7 L121.0 277.2 L121.7 282.5 L122.5 291.5 L125.7 340.7 L127.7 347.0 L129.6 340.4 L132.9 290.5 L133.7 281.4 L134.5 276.2 L134.5 221.2 L134.7 218.2 L135.0 217.0 L135.2 217.8 L135.5 221.2 L135.5 275.4 L136.3 280.0 L137.2 289.6 L140.6 340.6 L142.6 347.0 L144.5 340.6 L148.0 288.4 L149.1 276.8 L149.6 273.3 L149.9 272.4 L150.3 273.6 L151.0 277.7 L152.0 287.7 L155.5 340.4 L157.5 347.0 L159.4 340.7 L162.9 288.0 L164.1 276.2 L164.6 273.1 L164.9 272.4 L165.3 273.7 L166.0 278.2 L166.9 288.0 L170.4 340.7 L172.4 347.0 L174.4 340.4 L177.8 288.2 L179.0 276.3 L179.5 273.2 L179.8 272.4 L180.2 273.6 L180.8 277.8 L181.9 287.9 L185.3 340.6 L187.3 347.0 L189.3 340.6 L192.7 288.4 L193.9 276.8 L194.4 273.3 L194.7 272.4 L195.1 273.6 L195.7 277.7 L196.8 287.7 L200.2 340.4 L202.2 347.0 L204.2 340.7 L207.7 288.0 L208.9 276.2 L209.3 273.1 L209.6 272.4 L210.0 273.7 L210.7 278.2 L211.7 288.0 L215.2 340.7 L217.2 347.0 L219.1 340.4 L222.6 288.2 L223.8 276.3 L224.2 273.2 L224.5 272.4 L224.9 273.6 L225.6 277.8 L226.6 287.9 L230.1 340.6 L232.1 347.0 L234.0 340.6 L237.5 288.4 L238.6 276.8 L239.1 273.3 L239.4 272.4 L239.8 273.6 L240.5 277.7 L241.5 287.7 L245.0 340.4 L247.0 347.0 L248.9 340.7 L252.4 288.0 L253.6 276.2 L254.1 273.1 L254.4 272.4 L254.8 273.7 L255.5 278.2 L256.5 288.0 L259.9 340.7 L261.9 347.0 L263.9 340.4 L267.3 288.2 L268.5 276.3 L269.0 273.2 L269.3 272.4 L269.7 273.6 L270.3 277.8 L271.4 287.9 L274.8 340.6 L276.8 347.0 L278.8 340.6 L282.2 288.4 L283.4 276.8 L283.9 273.3 L284.2 272.4 L284.6 273.6 L285.2 277.7 L286.3 287.7 L289.7 340.4 L291.7 347.0 L293.7 340.7 L297.2 288.0 L298.4 276.2 L298.8 273.1 L299.1 272.4 L299.5 273.7 L300.2 278.2 L301.2 288.0 L304.7 340.7 L306.7 347.0 L308.6 340.4 L312.1 288.2 L313.3 276.3 L313.7 273.2 L314.0 272.4 L314.4 273.6 L315.1 277.8 L316.1 287.9 L319.6 340.6 L321.6 347.0 L323.5 340.6 L327.0 288.4 L328.1 276.8 L328.6 273.3 L328.9 272.4 L329.4 273.6 L330.0 277.7 L331.0 287.7 L334.5 340.4 L336.5 347.0 L338.4 340.7 L341.9 288.0 L343.1 276.2 L343.6 273.1 L343.9 272.4 L344.3 273.7 L345.0 278.2 L346.0 288.0 L349.4 340.7 L351.4 347.0 L353.4 340.4 L356.8 288.2 L358.0 276.3 L358.5 273.2 L358.8 272.4 L359.2 273.6 L359.8 277.8 L360.9 287.9 L364.3 340.6 L366.3 347.0 L368.3 340.6 L371.7 288.4 L372.9 276.8 L373.4 273.3 L373.7 272.4 L374.1 273.6 L374.7 277.7 L375.8 287.7 L379.2 340.4 L381.2 347.0 L383.2 340.7 L386.6 288.6 L387.8 277.3 L388.2 273.6 L388.6 272.4 L389.0 273.5 L389.6 277.6 L390.7 287.5 L394.2 340.7 L396.2 347.0 L398.1 340.4 L401.6 288.2 L402.8 276.3 L403.2 273.2 L403.5 272.4 L404.0 273.6 L404.6 277.8 L405.6 287.9 L409.1 340.6 L411.1 347.0 L413.0 340.6 L416.5 288.4 L417.6 276.8 L418.1 273.3 L418.5 272.4 L418.9 273.6 L419.5 277.7 L420.5 287.7 L424.0 340.4 L426.0 347.0 L427.9 340.7 L431.4 288.6 L432.5 277.3 L433.0 273.6 L433.4 272.4 L433.8 273.5 L434.4 277.6 L435.4 287.5 L438.9 340.7 L440.9 347.0 L442.9 340.4 L446.3 288.2 L447.5 276.3 L448.0 273.2 L448.3 272.4 L448.7 273.6 L449.3 277.8 L450.4 287.9 L453.8 340.6 L455.8 347.0 L457.8 340.6 L461.2 288.4 L462.4 276.8 L462.9 273.3 L463.2 272.4 L463.6 273.6 L464.2 277.7 L465.3 287.7 L468.8 340.4 L470.7 347.0 L472.7 340.7 L476.1 288.6 L477.3 277.3 L477.7 273.6 L478.1 272.4 L478.5 273.5 L479.1 277.6 L480.2 287.5 L483.7 340.7 L485.7 347.0 L487.6 340.4 L491.1 288.2 L492.3 276.3 L492.7 273.2 L493.1 272.4 L493.5 273.6 L494.1 277.8 L495.1 287.9 L498.6 340.6 L500.6 347.0 L502.5 340.6 L506.0 288.4 L507.1 276.8 L507.6 273.3 L508.0 272.4 L508.4 273.6 L509.0 277.7 L510.0 287.7 L513.5 340.4 L515.5 347.0 L517.4 340.7 L520.9 288.6 L522.0 277.3 L522.5 273.6 L522.9 272.4 L523.3 273.5 L523.9 277.6 L524.9 287.5 L528.4 340.7 L530.4 346.9 L532.4 340.4 L535.8 288.8 L536.9 277.8 L537.4 273.7 L537.8 272.4 L538.1 273.2 L538.7 277.1 L539.8 287.3 L542.8 333.4" stroke="#fff" stroke-width="1.45" fill="none"/></mask>
<path d="M20.7 333.6 L21.6 344.8 L22.4 350.8 L22.8 352.8 L23.3 353.3 L23.6 352.9 L24.0 351.2 L24.8 345.4 L25.5 336.5 L28.9 284.9 L29.8 277.2 L30.3 275.3 L30.7 274.7 L31.2 275.6 L31.6 277.8 L32.7 287.7 L35.5 331.4 L36.5 344.8 L37.4 351.6 L37.9 353.1 L38.2 353.3 L38.6 352.5 L39.1 350.3 L40.1 340.4 L43.0 296.6 L44.0 283.3 L44.9 276.4 L45.3 275.0 L45.6 274.7 L46.1 275.6 L46.5 277.8 L47.6 287.7 L50.4 331.4 L51.5 344.8 L52.4 351.6 L52.8 353.1 L53.1 353.3 L53.5 352.5 L54.0 350.3 L55.0 340.4 L57.9 296.6 L58.9 283.3 L59.8 276.4 L60.3 275.0 L60.6 274.7 L61.0 275.6 L61.5 277.8 L62.5 287.7 L65.3 331.4 L66.4 344.8 L67.3 351.6 L67.7 353.1 L68.0 353.3 L68.5 352.5 L68.9 350.3 L70.0 340.4 L72.8 296.6 L73.8 283.3 L74.7 276.4 L75.2 275.0 L75.5 274.7 L75.9 275.6 L76.4 277.8 L77.4 287.7 L80.2 331.4 L81.3 344.8 L82.2 351.6 L82.6 353.1 L82.9 353.3 L83.4 352.5 L83.8 350.3 L84.9 340.4 L87.7 296.6 L88.8 283.3 L89.6 276.4 L90.1 275.0 L90.4 274.7 L90.8 275.6 L91.3 277.8 L92.3 287.7 L95.2 331.4 L96.2 344.8 L97.1 351.6 L97.6 353.1 L97.9 353.3 L98.3 352.5 L98.7 350.3 L99.8 340.4 L102.6 296.6 L103.7 283.3 L104.6 276.4 L105.0 275.0 L105.3 274.7 L105.8 275.6 L106.2 277.8 L107.2 287.7 L110.1 331.4 L111.1 344.8 L112.0 351.6 L112.5 353.1 L112.8 353.3 L113.2 352.5 L113.7 350.3 L114.7 340.4 L117.5 296.6 L118.6 283.3 L119.5 276.4 L119.9 275.0 L120.2 274.7 L120.7 275.6 L121.1 277.8 L122.2 287.7 L125.0 331.4 L126.0 344.8 L126.9 351.6 L127.4 353.1 L127.7 353.3 L128.1 352.5 L128.6 350.3 L129.6 340.4 L132.5 296.6 L133.5 283.3 L134.4 276.4 L134.8 275.0 L135.1 274.7 L135.6 275.6 L136.0 277.8 L137.1 287.7 L139.9 331.4 L141.0 344.8 L141.9 351.6 L142.3 353.1 L142.6 353.3 L143.1 352.5 L143.5 350.3 L144.5 340.4 L147.4 296.6 L148.4 283.3 L149.3 276.4 L149.8 275.0 L150.1 274.7 L150.5 275.6 L151.0 277.8 L152.0 287.7 L154.8 331.4 L155.9 344.8 L156.8 351.6 L157.2 353.1 L157.5 353.3 L158.0 352.5 L158.4 350.3 L159.5 340.4 L162.3 296.6 L163.3 283.3 L164.2 276.4 L164.7 275.0 L165.0 274.7 L165.4 275.6 L165.9 277.8 L166.9 287.7 L169.8 331.4 L170.8 344.8 L171.7 351.6 L172.1 353.1 L172.4 353.3 L172.9 352.5 L173.3 350.3 L174.4 340.4 L177.2 296.6 L178.3 283.3 L179.2 276.4 L179.6 275.0 L179.9 274.7 L180.3 275.6 L180.8 277.8 L181.8 287.7 L184.7 331.4 L185.7 344.8 L186.6 351.6 L187.1 353.1 L187.4 353.3 L187.8 352.5 L188.2 350.3 L189.3 340.4 L192.1 296.6 L193.2 283.3 L194.1 276.4 L194.5 275.0 L194.8 274.7 L195.3 275.6 L195.7 277.8 L196.8 287.7 L199.6 331.4 L200.6 344.8 L201.5 351.6 L202.0 353.1 L202.3 353.3 L202.7 352.5 L203.2 350.3 L204.2 340.4 L207.0 296.6 L208.1 283.3 L209.0 276.4 L209.4 275.0 L209.7 274.7 L210.2 275.6 L210.6 277.8 L211.7 287.7 L214.5 331.4 L215.5 344.8 L216.4 351.6 L216.9 353.1 L217.2 353.3 L217.6 352.5 L218.1 350.3 L219.1 340.4 L222.0 296.6 L223.0 283.3 L223.9 276.4 L224.3 275.0 L224.6 274.7 L225.1 275.6 L225.5 277.8 L226.6 287.7 L229.4 331.4 L230.5 344.8 L231.4 351.6 L231.8 353.1 L232.1 353.3 L232.6 352.5 L233.0 350.3 L234.0 340.4 L236.9 296.6 L237.9 283.3 L238.8 276.4 L239.3 275.0 L239.6 274.7 L240.0 275.6 L240.5 277.8 L241.5 287.7 L244.3 331.4 L245.4 344.8 L246.3 351.6 L246.7 353.1 L247.0 353.3 L247.5 352.5 L247.9 350.3 L249.0 340.4 L251.8 296.6 L252.8 283.3 L253.7 276.4 L254.2 275.0 L254.5 274.7 L254.9 275.6 L255.4 277.8 L256.4 287.7 L259.3 331.4 L260.3 344.8 L261.2 351.6 L261.6 353.1 L261.9 353.3 L262.4 352.5 L262.8 350.3 L263.9 340.4 L266.7 296.6 L267.8 283.3 L268.7 276.4 L269.1 275.0 L269.4 274.7 L269.7 275.1 L270.1 276.9 L271.0 284.2 L274.9 341.5 L275.8 349.9 L276.3 352.3 L276.7 353.3 L277.0 353.2 L277.5 351.9 L278.3 345.4 L279.4 332.3 L282.4 286.6 L283.4 277.2 L283.9 275.3 L284.3 274.7 L284.6 275.1 L285.1 276.9 L286.0 284.2 L289.8 341.5 L290.7 349.9 L291.2 352.3 L291.6 353.3 L291.9 353.2 L292.4 351.9 L293.3 345.4 L294.3 332.3 L297.3 286.6 L298.3 277.2 L298.8 275.3 L299.2 274.7 L299.5 275.1 L300.0 276.9 L300.9 284.2 L304.8 341.5 L305.6 349.9 L306.1 352.3 L306.5 353.3 L306.8 353.2 L307.3 351.9 L308.2 345.4 L309.2 332.3 L312.2 286.6 L313.3 277.2 L313.7 275.3 L314.2 274.7 L314.4 275.1 L314.9 276.9 L315.8 284.2 L319.7 341.5 L320.6 349.9 L321.0 352.3 L321.5 353.3 L321.8 353.2 L322.2 351.9 L323.1 345.4 L324.1 332.3 L327.1 286.6 L328.2 277.2 L328.6 275.3 L329.1 274.7 L329.4 275.1 L329.8 276.9 L330.7 284.2 L334.6 341.5 L335.5 349.9 L335.9 352.3 L336.4 353.3 L336.7 353.2 L337.1 351.9 L338.0 345.4 L339.1 332.3 L342.0 286.6 L343.1 277.2 L343.5 275.3 L344.0 274.7 L344.3 275.1 L344.7 276.9 L345.6 284.2 L349.5 341.5 L350.4 349.9 L350.8 352.3 L351.3 353.3 L351.6 353.2 L352.0 351.9 L352.9 345.4 L354.0 332.3 L357.0 286.6 L358.0 277.2 L358.5 275.3 L358.9 274.7 L359.2 275.1 L359.6 276.9 L360.5 284.2 L364.4 341.5 L365.3 349.9 L365.8 352.3 L366.2 353.3 L366.5 353.2 L367.0 351.9 L367.9 345.4 L368.9 332.3 L371.9 286.6 L372.9 277.2 L373.4 275.3 L373.8 274.7 L374.1 275.1 L374.6 276.9 L375.5 284.2 L379.3 341.5 L380.2 349.9 L380.7 352.3 L381.1 353.3 L381.4 353.2 L381.9 351.9 L382.8 345.4 L383.8 332.3 L386.8 286.6 L387.8 277.2 L388.3 275.3 L388.7 274.7 L389.0 275.1 L389.5 276.9 L390.4 284.2 L394.3 341.5 L395.2 349.9 L395.6 352.3 L396.0 353.3 L396.3 353.2 L396.8 351.9 L397.7 345.4 L398.7 332.3 L401.7 286.6 L402.8 277.2 L403.2 275.3 L403.7 274.7 L404.0 275.1 L404.4 276.9 L405.3 284.2 L409.2 341.5 L410.1 349.9 L410.5 352.3 L411.0 353.3 L411.3 353.2 L411.7 351.9 L412.6 345.4 L413.6 332.3 L416.6 286.6 L417.7 277.2 L418.1 275.3 L418.6 274.7 L418.9 275.1 L419.3 276.9 L420.2 284.2 L424.1 341.5 L425.0 349.9 L425.4 352.3 L425.9 353.3 L426.2 353.2 L426.6 351.9 L427.5 345.4 L428.6 332.3 L431.5 286.6 L432.6 277.2 L433.0 275.3 L433.5 274.7 L433.8 275.1 L434.2 276.9 L435.1 284.2 L439.0 341.5 L439.9 349.9 L440.3 352.3 L440.8 353.3 L441.1 353.2 L441.5 351.9 L442.4 345.4 L443.5 332.3 L446.5 286.6 L447.5 277.2 L448.0 275.3 L448.4 274.7 L448.7 275.1 L449.2 276.9 L450.0 284.2 L453.9 341.5 L454.8 349.9 L455.3 352.3 L455.7 353.3 L456.2 352.9 L456.6 351.2 L457.5 343.8 L461.4 286.6 L462.3 278.2 L462.7 275.8 L463.2 274.8 L463.6 275.1 L464.1 276.9 L465.0 284.2 L468.8 341.5 L469.7 349.9 L470.2 352.3 L470.6 353.3 L471.1 352.9 L471.5 351.2 L472.4 343.8 L476.3 286.6 L477.2 278.2 L477.6 275.8 L478.1 274.8 L478.5 275.1 L479.0 276.9 L479.9 284.2 L483.8 341.5 L484.7 349.9 L485.1 352.3 L485.5 353.3 L486.0 352.9 L486.4 351.2 L487.3 343.8 L491.2 286.6 L492.1 278.2 L492.6 275.8 L493.0 274.8 L493.5 275.1 L493.9 276.9 L494.8 284.2 L498.7 341.5 L499.6 349.9 L500.0 352.3 L500.5 353.3 L500.9 352.9 L501.4 351.2 L502.3 343.8 L506.1 286.6 L507.0 278.2 L507.5 275.8 L507.9 274.8 L508.4 275.1 L508.8 276.9 L509.7 284.2 L513.4 339.6 L514.3 348.8 L514.8 351.6 L515.2 353.1 L515.5 353.3 L515.7 353.2 L516.1 351.9 L517.0 345.4 L518.1 332.3 L521.1 286.6 L521.9 278.2 L522.4 275.8 L522.8 274.8 L523.3 275.1 L523.7 276.9 L524.6 284.2 L528.4 339.6 L529.3 348.8 L530.0 352.8 L530.4 353.3 L530.9 352.5 L531.3 350.3 L531.9 345.4 L533.0 332.3 L535.8 288.4 L536.7 279.2 L537.2 276.4 L537.6 275.0 L537.9 274.7 L538.1 274.9 L538.7 276.9 L539.7 285.9 L542.8 333.6" stroke="#b030d0" stroke-width="1.8" stroke-opacity="0.2" stroke-linecap="butt" mask="url(#mbd)"/>
<path d="M20.7 332.6 L26.7 327.1 L34.6 318.4 L41.6 311.9 L49.4 303.4 L56.5 296.7 L64.3 288.2 L77.3 276.1 L78.8 275.3 L80.1 275.1 L81.4 275.3 L84.6 276.2 L86.5 276.1 L88.3 275.2 L92.2 272.2 L94.1 271.4 L95.9 271.6 L99.6 272.9 L101.4 272.9 L103.2 272.1 L107.1 269.4 L108.7 268.8 L110.4 268.9 L114.3 270.4 L116.2 270.6 L118.1 269.9 L122.2 267.3 L124.1 266.8 L125.7 267.1 L129.3 268.7 L131.1 269.0 L133.1 268.3 L136.9 265.9 L138.7 265.4 L140.5 265.7 L144.4 267.6 L146.2 267.8 L148.0 267.2 L151.9 264.8 L153.6 264.4 L155.4 264.8 L159.3 266.7 L161.1 266.9 L162.9 266.4 L166.8 264.1 L168.4 263.7 L170.3 264.1 L174.2 266.1 L176.0 266.3 L177.8 265.8 L181.7 263.6 L183.3 263.2 L185.0 263.5 L188.8 265.5 L190.8 265.9 L192.7 265.4 L196.8 263.1 L198.7 262.8 L200.3 263.3 L204.1 265.3 L205.9 265.6 L207.6 265.1 L211.5 262.9 L213.2 262.6 L214.8 262.9 L218.7 264.9 L220.6 265.4 L222.6 264.9 L226.4 262.7 L228.1 262.4 L229.7 262.7 L233.6 264.8 L235.5 265.2 L237.5 264.7 L241.4 262.6 L243.0 262.2 L244.6 262.6 L248.5 264.6 L250.5 265.1 L252.4 264.6 L256.3 262.5 L257.9 262.1 L259.6 262.5 L263.4 264.6 L265.4 265.0 L267.3 264.5 L271.2 262.4 L272.8 262.1 L274.5 262.4 L278.3 264.5 L280.3 264.9 L282.2 264.5 L286.1 262.4 L287.7 262.0 L289.4 262.3 L293.3 264.4 L295.2 264.9 L297.1 264.4 L301.0 262.3 L302.7 262.0 L304.3 262.3 L308.2 264.4 L310.1 264.9 L312.1 264.4 L315.9 262.3 L317.6 262.0 L319.2 262.3 L323.1 264.4 L325.0 264.8 L327.0 264.4 L330.9 262.3 L332.5 261.9 L334.1 262.3 L338.0 264.4 L340.0 264.8 L341.9 264.4 L345.8 262.3 L347.4 261.9 L349.1 262.3 L352.9 264.4 L354.9 264.8 L356.8 264.4 L360.7 262.2 L362.3 261.9 L364.0 262.2 L367.9 264.4 L369.8 264.8 L371.7 264.4 L375.6 262.2 L377.2 261.9 L378.9 262.2 L382.8 264.4 L384.7 264.8 L386.6 264.3 L390.5 262.2 L392.2 261.9 L393.8 262.2 L397.7 264.3 L399.6 264.8 L401.6 264.3 L405.4 262.2 L407.1 261.9 L408.7 262.2 L412.6 264.3 L414.5 264.8 L416.2 264.5 L420.1 262.4 L421.9 261.9 L423.6 262.2 L427.5 264.3 L429.5 264.8 L431.1 264.5 L435.0 262.4 L436.8 261.9 L438.6 262.2 L442.4 264.3 L444.4 264.8 L446.0 264.5 L449.9 262.3 L451.7 261.9 L453.5 262.2 L457.4 264.3 L459.3 264.8 L460.9 264.5 L464.8 262.3 L466.6 261.9 L468.4 262.2 L472.3 264.3 L474.2 264.8 L475.9 264.5 L479.7 262.3 L481.5 261.9 L483.3 262.2 L487.2 264.3 L489.1 264.8 L490.8 264.5 L494.6 262.3 L496.4 261.9 L498.2 262.2 L502.1 264.3 L504.0 264.8 L505.7 264.5 L509.4 262.4 L511.2 261.9 L513.0 262.2 L517.0 264.3 L519.0 264.8 L520.8 264.4 L524.3 262.4 L526.0 261.9 L527.9 262.2 L531.9 264.3 L533.9 264.8 L535.8 264.3 L540.1 262.1 L541.5 261.9 L542.8 262.2" stroke="#d40000" stroke-width="1.5"/>
<path d="M20.7 333.1 L22.5 330.6 L25.7 325.4 L26.7 324.3 L29.7 322.1 L33.4 317.0 L37.1 314.4 L40.1 310.3 L41.2 309.1 L44.6 306.8 L48.5 301.7 L52.1 299.2 L55.9 294.1 L59.5 291.6 L63.4 286.5 L66.8 284.1 L69.5 280.7 L72.9 278.9 L75.0 277.3 L76.8 275.6 L78.6 273.3 L84.7 275.7 L87.3 274.8 L89.5 273.5 L91.6 271.7 L93.5 269.5 L99.6 272.3 L102.2 271.7 L104.4 270.5 L106.5 268.9 L108.4 266.7 L114.6 269.9 L117.1 269.4 L119.3 268.4 L121.4 266.8 L123.4 264.8 L129.5 268.2 L132.0 267.8 L134.2 266.8 L136.3 265.4 L138.3 263.4 L144.4 267.0 L146.8 266.7 L148.4 266.1 L150.1 265.2 L151.7 263.9 L153.2 262.4 L159.3 266.1 L160.1 266.1 L162.3 265.7 L164.4 264.8 L166.3 263.4 L168.1 261.6 L174.2 265.5 L175.1 265.4 L177.4 265.0 L179.3 264.2 L181.2 262.9 L183.0 261.1 L189.1 265.0 L190.0 265.0 L192.3 264.6 L194.2 263.8 L196.2 262.5 L197.9 260.7 L204.1 264.7 L205.0 264.7 L207.2 264.3 L209.1 263.5 L211.1 262.2 L212.9 260.5 L219.0 264.5 L221.5 264.2 L223.8 263.5 L225.8 262.1 L227.8 260.3 L233.9 264.3 L236.4 264.1 L238.7 263.3 L240.8 262.0 L242.7 260.1 L248.8 264.2 L251.3 264.0 L253.6 263.2 L255.7 261.9 L257.6 260.1 L263.7 264.1 L266.3 263.9 L268.5 263.1 L270.6 261.8 L272.5 260.0 L278.6 264.0 L281.2 263.8 L283.4 263.1 L285.5 261.8 L287.4 259.9 L293.6 264.0 L296.1 263.8 L298.3 263.0 L300.4 261.7 L302.4 259.9 L308.5 264.0 L311.0 263.8 L313.3 263.0 L315.3 261.7 L317.3 259.9 L323.4 263.9 L325.9 263.7 L328.2 263.0 L330.3 261.7 L332.2 259.9 L338.3 263.9 L340.9 263.7 L343.1 263.0 L345.2 261.7 L347.1 259.8 L353.2 263.9 L355.8 263.7 L358.0 263.0 L360.1 261.7 L362.0 259.8 L368.2 263.9 L370.7 263.7 L372.9 263.0 L375.0 261.7 L377.0 259.8 L383.1 263.9 L385.6 263.7 L387.8 263.0 L389.9 261.7 L391.9 259.8 L398.0 263.9 L400.5 263.7 L402.8 263.0 L404.8 261.7 L406.8 259.8 L412.9 263.9 L415.4 263.7 L417.7 263.0 L419.8 261.6 L421.7 259.8 L427.8 263.9 L430.4 263.7 L432.6 263.0 L434.7 261.6 L436.6 259.8 L442.7 263.9 L445.3 263.7 L447.5 263.0 L449.6 261.6 L451.5 259.8 L457.7 263.9 L460.2 263.7 L462.4 263.0 L464.5 261.6 L466.5 259.8 L472.6 263.9 L475.1 263.7 L477.3 263.0 L479.4 261.6 L481.4 259.8 L487.5 263.9 L490.0 263.7 L492.3 263.0 L494.3 261.6 L496.3 259.8 L502.4 263.9 L504.9 263.7 L507.2 263.0 L509.3 261.6 L511.2 259.8 L517.3 263.9 L519.9 263.7 L522.1 263.0 L524.2 261.6 L526.1 259.8 L532.2 263.9 L534.8 263.7 L537.0 263.0 L539.1 261.6 L541.0 259.8 L542.8 261.0" stroke="#10dc10" stroke-width="1.5"/>
</g>
<rect x="20.85" y="200.3" width="521.7" height="170.1" fill="none" stroke="#8a8a8a" stroke-width="1.05"/>
<text x="17.9" y="147.0" text-anchor="end" style="font-family:'Liberation Sans',Arial,sans-serif;font-weight:bold;font-size:5.4px" fill="#222" transform="translate(17.9 0) scale(0.88 1) translate(-17.9 0)">15</text>
<text x="17.9" y="119.9" text-anchor="end" style="font-family:'Liberation Sans',Arial,sans-serif;font-weight:bold;font-size:5.4px" fill="#222" transform="translate(17.9 0) scale(0.88 1) translate(-17.9 0)">20</text>
<text x="17.9" y="92.8" text-anchor="end" style="font-family:'Liberation Sans',Arial,sans-serif;font-weight:bold;font-size:5.4px" fill="#222" transform="translate(17.9 0) scale(0.88 1) translate(-17.9 0)">25</text>
<text x="17.9" y="65.8" text-anchor="end" style="font-family:'Liberation Sans',Arial,sans-serif;font-weight:bold;font-size:5.4px" fill="#222" transform="translate(17.9 0) scale(0.88 1) translate(-17.9 0)">30</text>
<text x="17.9" y="38.7" text-anchor="end" style="font-family:'Liberation Sans',Arial,sans-serif;font-weight:bold;font-size:5.4px" fill="#222" transform="translate(17.9 0) scale(0.88 1) translate(-17.9 0)">35</text>
<text x="17.9" y="11.6" text-anchor="end" style="font-family:'Liberation Sans',Arial,sans-serif;font-weight:bold;font-size:5.4px" fill="#222" transform="translate(17.9 0) scale(0.88 1) translate(-17.9 0)">40</text>
<text x="20.2" y="168.0" text-anchor="middle" style="font-family:'Liberation Sans',Arial,sans-serif;font-weight:bold;font-size:5.3px" fill="#222" transform="translate(20.2 0) scale(0.86 1) translate(-20.2 0)">0</text>
<text x="94.3" y="168.0" text-anchor="middle" style="font-family:'Liberation Sans',Arial,sans-serif;font-weight:bold;font-size:5.3px" fill="#222" transform="translate(94.3 0) scale(0.86 1) translate(-94.3 0)">5</text>
<text x="168.4" y="168.0" text-anchor="middle" style="font-family:'Liberation Sans',Arial,sans-serif;font-weight:bold;font-size:5.3px" fill="#222" transform="translate(168.4 0) scale(0.86 1) translate(-168.4 0)">10</text>
<text x="242.5" y="168.0" text-anchor="middle" style="font-family:'Liberation Sans',Arial,sans-serif;font-weight:bold;font-size:5.3px" fill="#222" transform="translate(242.5 0) scale(0.86 1) translate(-242.5 0)">15</text>
<text x="316.6" y="168.0" text-anchor="middle" style="font-family:'Liberation Sans',Arial,sans-serif;font-weight:bold;font-size:5.3px" fill="#222" transform="translate(316.6 0) scale(0.86 1) translate(-316.6 0)">20</text>
<text x="390.7" y="168.0" text-anchor="middle" style="font-family:'Liberation Sans',Arial,sans-serif;font-weight:bold;font-size:5.3px" fill="#222" transform="translate(390.7 0) scale(0.86 1) translate(-390.7 0)">25</text>
<text x="464.8" y="168.0" text-anchor="middle" style="font-family:'Liberation Sans',Arial,sans-serif;font-weight:bold;font-size:5.3px" fill="#222" transform="translate(464.8 0) scale(0.86 1) translate(-464.8 0)">30</text>
<text x="538.9" y="168.0" text-anchor="middle" style="font-family:'Liberation Sans',Arial,sans-serif;font-weight:bold;font-size:5.3px" fill="#222" transform="translate(538.9 0) scale(0.86 1) translate(-538.9 0)">35</text>
<text x="19.0" y="355.8" text-anchor="end" style="font-family:'Liberation Sans',Arial,sans-serif;font-weight:bold;font-size:5.4px" fill="#222" transform="translate(19.0 0) scale(0.88 1) translate(-19.0 0)">15</text>
<text x="19.0" y="336.2" text-anchor="end" style="font-family:'Liberation Sans',Arial,sans-serif;font-weight:bold;font-size:5.4px" fill="#222" transform="translate(19.0 0) scale(0.88 1) translate(-19.0 0)">20</text>
<text x="19.0" y="316.5" text-anchor="end" style="font-family:'Liberation Sans',Arial,sans-serif;font-weight:bold;font-size:5.4px" fill="#222" transform="translate(19.0 0) scale(0.88 1) translate(-19.0 0)">25</text>
<text x="19.0" y="296.9" text-anchor="end" style="font-family:'Liberation Sans',Arial,sans-serif;font-weight:bold;font-size:5.4px" fill="#222" transform="translate(19.0 0) scale(0.88 1) translate(-19.0 0)">30</text>
<text x="19.0" y="277.2" text-anchor="end" style="font-family:'Liberation Sans',Arial,sans-serif;font-weight:bold;font-size:5.4px" fill="#222" transform="translate(19.0 0) scale(0.88 1) translate(-19.0 0)">35</text>
<text x="19.0" y="257.6" text-anchor="end" style="font-family:'Liberation Sans',Arial,sans-serif;font-weight:bold;font-size:5.4px" fill="#222" transform="translate(19.0 0) scale(0.88 1) translate(-19.0 0)">40</text>
<text x="19.0" y="237.9" text-anchor="end" style="font-family:'Liberation Sans',Arial,sans-serif;font-weight:bold;font-size:5.4px" fill="#222" transform="translate(19.0 0) scale(0.88 1) translate(-19.0 0)">45</text>
<text x="19.0" y="218.3" text-anchor="end" style="font-family:'Liberation Sans',Arial,sans-serif;font-weight:bold;font-size:5.4px" fill="#222" transform="translate(19.0 0) scale(0.88 1) translate(-19.0 0)">50</text>
<text x="20.7" y="379.2" text-anchor="middle" style="font-family:'Liberation Sans',Arial,sans-serif;font-weight:bold;font-size:5.3px" fill="#222" transform="translate(20.7 0) scale(0.86 1) translate(-20.7 0)">0</text>
<text x="95.3" y="379.2" text-anchor="middle" style="font-family:'Liberation Sans',Arial,sans-serif;font-weight:bold;font-size:5.3px" fill="#222" transform="translate(95.3 0) scale(0.86 1) translate(-95.3 0)">5</text>
<text x="169.9" y="379.2" text-anchor="middle" style="font-family:'Liberation Sans',Arial,sans-serif;font-weight:bold;font-size:5.3px" fill="#222" transform="translate(169.9 0) scale(0.86 1) translate(-169.9 0)">10</text>
<text x="244.5" y="379.2" text-anchor="middle" style="font-family:'Liberation Sans',Arial,sans-serif;font-weight:bold;font-size:5.3px" fill="#222" transform="translate(244.5 0) scale(0.86 1) translate(-244.5 0)">15</text>
<text x="319.1" y="379.2" text-anchor="middle" style="font-family:'Liberation Sans',Arial,sans-serif;font-weight:bold;font-size:5.3px" fill="#222" transform="translate(319.1 0) scale(0.86 1) translate(-319.1 0)">20</text>
<text x="393.7" y="379.2" text-anchor="middle" style="font-family:'Liberation Sans',Arial,sans-serif;font-weight:bold;font-size:5.3px" fill="#222" transform="translate(393.7 0) scale(0.86 1) translate(-393.7 0)">25</text>
<text x="468.2" y="379.2" text-anchor="middle" style="font-family:'Liberation Sans',Arial,sans-serif;font-weight:bold;font-size:5.3px" fill="#222" transform="translate(468.2 0) scale(0.86 1) translate(-468.2 0)">30</text>
<text x="542.8" y="379.2" text-anchor="middle" style="font-family:'Liberation Sans',Arial,sans-serif;font-weight:bold;font-size:5.3px" fill="#222" transform="translate(542.8 0) scale(0.86 1) translate(-542.8 0)">35</text>
<text x="279.85" y="176.5" text-anchor="middle" style="font-family:'Liberation Sans',Arial,sans-serif;font-weight:bold;font-size:5.9px" fill="#333" transform="translate(279.85 0) scale(0.79 1) translate(-279.85 0)">Time (days)</text>
<text x="282.0" y="388.0" text-anchor="middle" style="font-family:'Liberation Sans',Arial,sans-serif;font-weight:bold;font-size:5.9px" fill="#333" transform="translate(282.0 0) scale(0.68 1) translate(-282.0 0)">Time (days)</text>
<text x="0" y="0" text-anchor="middle" style="font-family:'Liberation Sans',Arial,sans-serif;font-size:5.63px" fill="#111" transform="translate(10.29 82.2) scale(0.95 1) rotate(-90)">Temperature response °C</text>
<text x="0" y="0" text-anchor="middle" style="font-family:'Liberation Sans',Arial,sans-serif;font-weight:bold;font-size:5.50px" fill="#111" transform="translate(12.11 285.3) scale(0.95 1) rotate(-90)">Temperature response °C</text>
<text x="267.55" y="193.8" text-anchor="middle" style="font-family:'Liberation Serif','Times New Roman',serif;font-weight:bold;font-size:14px" fill="#111" transform="translate(267.55 0) scale(0.89 1) translate(-267.55 0)">(c)</text>
<text x="267.6" y="404.9" text-anchor="middle" style="font-family:'Liberation Serif','Times New Roman',serif;font-weight:bold;font-size:14px" fill="#111" transform="translate(267.6 0) scale(0.93 1) translate(-267.6 0)">(d)</text>
<rect x="20.3" y="5.3" width="57.0" height="25.3" fill="#fff" stroke="#9a9a9a" stroke-width="1.2"/>
<path d="M21.6 8.6H35.8" stroke="#1a1ab8" stroke-width="1.7"/>
<text x="37.3" y="10.7" style="font-family:'Liberation Sans',Arial,sans-serif;font-weight:bold;font-size:4.8px" fill="#111" transform="translate(37.3 0) scale(0.737 1) translate(-37.3 0)">T_air_inside_container</text>
<path d="M21.6 15.1H35.8" stroke="#ecb8ec" stroke-width="1.3"/>
<path d="M21.6 15.1H35.8" stroke="#c060c8" stroke-width="1.2" stroke-dasharray="1 1.2"/>
<text x="37.3" y="16.8" style="font-family:'Liberation Sans',Arial,sans-serif;font-weight:bold;font-size:4.8px" fill="#111" transform="translate(37.3 0) scale(0.737 1) translate(-37.3 0)">Tair</text>
<path d="M21.6 21.2H35.8" stroke="#c81e1e" stroke-width="1.7"/>
<text x="37.3" y="22.8" style="font-family:'Liberation Sans',Arial,sans-serif;font-weight:bold;font-size:4.8px" fill="#111" transform="translate(37.3 0) scale(0.737 1) translate(-37.3 0)">Ttank</text>
<path d="M21.6 27.5H35.8" stroke="#10d010" stroke-width="1.7"/>
<text x="37.3" y="28.7" style="font-family:'Liberation Sans',Arial,sans-serif;font-weight:bold;font-size:4.8px" fill="#111" transform="translate(37.3 0) scale(0.737 1) translate(-37.3 0)">Tstack</text>
<rect x="492.6" y="200.7" width="50.7" height="26.3" fill="#fff" stroke="#555" stroke-width="1.0"/>
<path d="M494.0 204.3H505.7" stroke="#1a1ab8" stroke-width="1.7"/>
<text x="507.9" y="206.2" style="font-family:'Liberation Sans',Arial,sans-serif;font-weight:bold;font-size:5.3px" fill="#111" transform="translate(507.9 0) scale(0.585 1) translate(-507.9 0)">T_air_inside_container</text>
<path d="M494.0 210.6H505.7" stroke="#d58ad5" stroke-width="1.6"/>
<text x="507.9" y="212.7" style="font-family:'Liberation Sans',Arial,sans-serif;font-weight:bold;font-size:5.3px" fill="#111" transform="translate(507.9 0) scale(0.585 1) translate(-507.9 0)">Tair</text>
<path d="M494.0 217.1H505.7" stroke="#c81e1e" stroke-width="1.7"/>
<text x="507.9" y="218.9" style="font-family:'Liberation Sans',Arial,sans-serif;font-weight:bold;font-size:5.3px" fill="#111" transform="translate(507.9 0) scale(0.585 1) translate(-507.9 0)">Ttank</text>
<path d="M494.0 223.7H505.7" stroke="#10d010" stroke-width="1.7"/>
<text x="507.9" y="225.1" style="font-family:'Liberation Sans',Arial,sans-serif;font-weight:bold;font-size:5.3px" fill="#111" transform="translate(507.9 0) scale(0.585 1) translate(-507.9 0)">Tstack</text>
</svg>
</body></html>
